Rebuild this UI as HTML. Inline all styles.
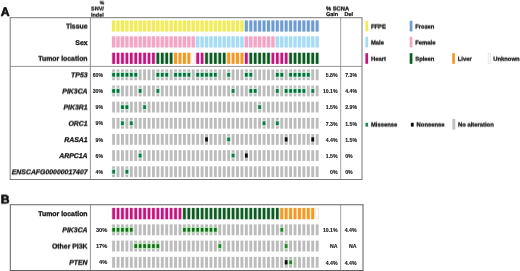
<!DOCTYPE html>
<html><head><meta charset="utf-8"><title>Figure</title>
<style>html,body{margin:0;padding:0;background:#fff;}body{width:520px;height:271px;overflow:hidden;font-family:'Liberation Sans', sans-serif;}
svg{display:block;font-family:'Liberation Sans',sans-serif;text-rendering:geometricPrecision;}text{stroke:#111;stroke-width:0.27;paint-order:stroke;}text.s{stroke-width:0.1;text-rendering:auto;}text.h{stroke-width:0.22;}text.p{stroke-width:0.6;}</style></head>
<body><svg width="520" height="271" viewBox="0 0 520 271">
<defs><filter id="soft" x="0" y="0" width="520" height="271" filterUnits="userSpaceOnUse"><feGaussianBlur stdDeviation="0.27"/></filter><filter id="t0" x="0" y="0" width="520" height="271" filterUnits="userSpaceOnUse"><feGaussianBlur stdDeviation="0.12" result="b"/></filter><filter id="t1" x="0" y="0" width="520" height="271" filterUnits="userSpaceOnUse"><feGaussianBlur stdDeviation="0.12" result="b"/><feOffset in="b" dy="1" result="o"/><feComposite in="b" in2="o" operator="arithmetic" k1="0" k2="0.75" k3="0.25" k4="0"/></filter><filter id="t2" x="0" y="0" width="520" height="271" filterUnits="userSpaceOnUse"><feGaussianBlur stdDeviation="0.12" result="b"/><feOffset in="b" dy="1" result="o"/><feComposite in="b" in2="o" operator="arithmetic" k1="0" k2="0.5" k3="0.5" k4="0"/></filter><filter id="t3" x="0" y="0" width="520" height="271" filterUnits="userSpaceOnUse"><feGaussianBlur stdDeviation="0.12" result="b"/><feOffset in="b" dy="1" result="o"/><feComposite in="b" in2="o" operator="arithmetic" k1="0" k2="0.25" k3="0.75" k4="0"/></filter></defs>
<rect x="0" y="0" width="520" height="271" fill="#ffffff"/>
<g filter="url(#soft)">
<line x1="9.80" y1="17.70" x2="362.40" y2="17.70" stroke="#6a6a6a" stroke-width="0.9"/>
<line x1="9.80" y1="179.50" x2="362.40" y2="179.50" stroke="#6a6a6a" stroke-width="0.9"/>
<line x1="10.20" y1="17.70" x2="10.20" y2="179.50" stroke="#6a6a6a" stroke-width="0.9"/>
<line x1="362.00" y1="17.70" x2="362.00" y2="179.50" stroke="#6a6a6a" stroke-width="0.9"/>
<line x1="90.40" y1="17.70" x2="90.40" y2="179.50" stroke="#7c7c7c" stroke-width="0.8"/>
<line x1="340.70" y1="17.70" x2="340.70" y2="179.50" stroke="#7c7c7c" stroke-width="0.7"/>
<line x1="10.20" y1="66.40" x2="362.00" y2="66.40" stroke="#7c7c7c" stroke-width="0.8"/>
<rect x="111.39" y="20.70" width="4.42" height="10.60" fill="#F1EC5C" opacity="0.25"/>
<rect x="112.00" y="20.40" width="3.20" height="11.20" fill="#F1EC5C" />
<rect x="115.81" y="20.70" width="4.42" height="10.60" fill="#F1EC5C" opacity="0.25"/>
<rect x="116.42" y="20.40" width="3.20" height="11.20" fill="#F1EC5C" />
<rect x="120.24" y="20.70" width="4.42" height="10.60" fill="#F1EC5C" opacity="0.25"/>
<rect x="120.85" y="20.40" width="3.20" height="11.20" fill="#F1EC5C" />
<rect x="124.66" y="20.70" width="4.42" height="10.60" fill="#F1EC5C" opacity="0.25"/>
<rect x="125.28" y="20.40" width="3.20" height="11.20" fill="#F1EC5C" />
<rect x="129.09" y="20.70" width="4.42" height="10.60" fill="#F1EC5C" opacity="0.25"/>
<rect x="129.70" y="20.40" width="3.20" height="11.20" fill="#F1EC5C" />
<rect x="133.51" y="20.70" width="4.42" height="10.60" fill="#F1EC5C" opacity="0.25"/>
<rect x="134.12" y="20.40" width="3.20" height="11.20" fill="#F1EC5C" />
<rect x="137.94" y="20.70" width="4.42" height="10.60" fill="#F1EC5C" opacity="0.25"/>
<rect x="138.55" y="20.40" width="3.20" height="11.20" fill="#F1EC5C" />
<rect x="142.36" y="20.70" width="4.42" height="10.60" fill="#F1EC5C" opacity="0.25"/>
<rect x="142.97" y="20.40" width="3.20" height="11.20" fill="#F1EC5C" />
<rect x="146.79" y="20.70" width="4.42" height="10.60" fill="#F1EC5C" opacity="0.25"/>
<rect x="147.40" y="20.40" width="3.20" height="11.20" fill="#F1EC5C" />
<rect x="151.21" y="20.70" width="4.42" height="10.60" fill="#F1EC5C" opacity="0.25"/>
<rect x="151.82" y="20.40" width="3.20" height="11.20" fill="#F1EC5C" />
<rect x="155.64" y="20.70" width="4.42" height="10.60" fill="#F1EC5C" opacity="0.25"/>
<rect x="156.25" y="20.40" width="3.20" height="11.20" fill="#F1EC5C" />
<rect x="160.06" y="20.70" width="4.42" height="10.60" fill="#F1EC5C" opacity="0.25"/>
<rect x="160.68" y="20.40" width="3.20" height="11.20" fill="#F1EC5C" />
<rect x="164.49" y="20.70" width="4.42" height="10.60" fill="#F1EC5C" opacity="0.25"/>
<rect x="165.10" y="20.40" width="3.20" height="11.20" fill="#F1EC5C" />
<rect x="168.91" y="20.70" width="4.42" height="10.60" fill="#F1EC5C" opacity="0.25"/>
<rect x="169.53" y="20.40" width="3.20" height="11.20" fill="#F1EC5C" />
<rect x="173.34" y="20.70" width="4.42" height="10.60" fill="#F1EC5C" opacity="0.25"/>
<rect x="173.95" y="20.40" width="3.20" height="11.20" fill="#F1EC5C" />
<rect x="177.76" y="20.70" width="4.42" height="10.60" fill="#F1EC5C" opacity="0.25"/>
<rect x="178.38" y="20.40" width="3.20" height="11.20" fill="#F1EC5C" />
<rect x="182.19" y="20.70" width="4.42" height="10.60" fill="#F1EC5C" opacity="0.25"/>
<rect x="182.80" y="20.40" width="3.20" height="11.20" fill="#F1EC5C" />
<rect x="186.61" y="20.70" width="4.42" height="10.60" fill="#F1EC5C" opacity="0.25"/>
<rect x="187.22" y="20.40" width="3.20" height="11.20" fill="#F1EC5C" />
<rect x="191.04" y="20.70" width="4.42" height="10.60" fill="#F1EC5C" opacity="0.25"/>
<rect x="191.65" y="20.40" width="3.20" height="11.20" fill="#F1EC5C" />
<rect x="195.46" y="20.70" width="4.42" height="10.60" fill="#F1EC5C" opacity="0.25"/>
<rect x="196.07" y="20.40" width="3.20" height="11.20" fill="#F1EC5C" />
<rect x="199.89" y="20.70" width="4.42" height="10.60" fill="#F1EC5C" opacity="0.25"/>
<rect x="200.50" y="20.40" width="3.20" height="11.20" fill="#F1EC5C" />
<rect x="204.31" y="20.70" width="4.42" height="10.60" fill="#F1EC5C" opacity="0.25"/>
<rect x="204.93" y="20.40" width="3.20" height="11.20" fill="#F1EC5C" />
<rect x="208.74" y="20.70" width="4.42" height="10.60" fill="#F1EC5C" opacity="0.25"/>
<rect x="209.35" y="20.40" width="3.20" height="11.20" fill="#F1EC5C" />
<rect x="213.16" y="20.70" width="4.42" height="10.60" fill="#F1EC5C" opacity="0.25"/>
<rect x="213.77" y="20.40" width="3.20" height="11.20" fill="#F1EC5C" />
<rect x="217.59" y="20.70" width="4.42" height="10.60" fill="#F1EC5C" opacity="0.25"/>
<rect x="218.20" y="20.40" width="3.20" height="11.20" fill="#F1EC5C" />
<rect x="222.01" y="20.70" width="4.42" height="10.60" fill="#F1EC5C" opacity="0.25"/>
<rect x="222.62" y="20.40" width="3.20" height="11.20" fill="#F1EC5C" />
<rect x="226.44" y="20.70" width="4.42" height="10.60" fill="#F1EC5C" opacity="0.25"/>
<rect x="227.05" y="20.40" width="3.20" height="11.20" fill="#F1EC5C" />
<rect x="230.86" y="20.70" width="4.42" height="10.60" fill="#F1EC5C" opacity="0.25"/>
<rect x="231.47" y="20.40" width="3.20" height="11.20" fill="#F1EC5C" />
<rect x="235.29" y="20.70" width="4.42" height="10.60" fill="#F1EC5C" opacity="0.25"/>
<rect x="235.90" y="20.40" width="3.20" height="11.20" fill="#F1EC5C" />
<rect x="239.71" y="20.70" width="4.42" height="10.60" fill="#F1EC5C" opacity="0.25"/>
<rect x="240.32" y="20.40" width="3.20" height="11.20" fill="#F1EC5C" />
<rect x="244.14" y="20.70" width="4.42" height="10.60" fill="#6E9BD0" opacity="0.15"/>
<rect x="244.88" y="20.40" width="2.95" height="11.20" fill="#6E9BD0" />
<rect x="248.56" y="20.70" width="4.42" height="10.60" fill="#6E9BD0" opacity="0.15"/>
<rect x="249.30" y="20.40" width="2.95" height="11.20" fill="#6E9BD0" />
<rect x="252.99" y="20.70" width="4.42" height="10.60" fill="#6E9BD0" opacity="0.15"/>
<rect x="253.72" y="20.40" width="2.95" height="11.20" fill="#6E9BD0" />
<rect x="257.41" y="20.70" width="4.42" height="10.60" fill="#6E9BD0" opacity="0.15"/>
<rect x="258.15" y="20.40" width="2.95" height="11.20" fill="#6E9BD0" />
<rect x="261.84" y="20.70" width="4.42" height="10.60" fill="#6E9BD0" opacity="0.15"/>
<rect x="262.57" y="20.40" width="2.95" height="11.20" fill="#6E9BD0" />
<rect x="266.26" y="20.70" width="4.42" height="10.60" fill="#6E9BD0" opacity="0.15"/>
<rect x="267.00" y="20.40" width="2.95" height="11.20" fill="#6E9BD0" />
<rect x="270.69" y="20.70" width="4.42" height="10.60" fill="#6E9BD0" opacity="0.15"/>
<rect x="271.42" y="20.40" width="2.95" height="11.20" fill="#6E9BD0" />
<rect x="275.11" y="20.70" width="4.42" height="10.60" fill="#6E9BD0" opacity="0.15"/>
<rect x="275.85" y="20.40" width="2.95" height="11.20" fill="#6E9BD0" />
<rect x="279.54" y="20.70" width="4.42" height="10.60" fill="#6E9BD0" opacity="0.15"/>
<rect x="280.27" y="20.40" width="2.95" height="11.20" fill="#6E9BD0" />
<rect x="283.96" y="20.70" width="4.42" height="10.60" fill="#6E9BD0" opacity="0.15"/>
<rect x="284.70" y="20.40" width="2.95" height="11.20" fill="#6E9BD0" />
<rect x="288.39" y="20.70" width="4.42" height="10.60" fill="#6E9BD0" opacity="0.15"/>
<rect x="289.12" y="20.40" width="2.95" height="11.20" fill="#6E9BD0" />
<rect x="292.81" y="20.70" width="4.42" height="10.60" fill="#6E9BD0" opacity="0.15"/>
<rect x="293.55" y="20.40" width="2.95" height="11.20" fill="#6E9BD0" />
<rect x="297.24" y="20.70" width="4.42" height="10.60" fill="#6E9BD0" opacity="0.15"/>
<rect x="297.98" y="20.40" width="2.95" height="11.20" fill="#6E9BD0" />
<rect x="301.66" y="20.70" width="4.42" height="10.60" fill="#6E9BD0" opacity="0.15"/>
<rect x="302.40" y="20.40" width="2.95" height="11.20" fill="#6E9BD0" />
<rect x="306.09" y="20.70" width="4.42" height="10.60" fill="#6E9BD0" opacity="0.15"/>
<rect x="306.82" y="20.40" width="2.95" height="11.20" fill="#6E9BD0" />
<rect x="310.51" y="20.70" width="4.42" height="10.60" fill="#6E9BD0" opacity="0.15"/>
<rect x="311.25" y="20.40" width="2.95" height="11.20" fill="#6E9BD0" />
<rect x="314.94" y="20.70" width="4.42" height="10.60" fill="#6E9BD0" opacity="0.15"/>
<rect x="315.67" y="20.40" width="2.95" height="11.20" fill="#6E9BD0" />
<rect x="111.39" y="36.60" width="4.42" height="10.60" fill="#F3A5C6" opacity="0.25"/>
<rect x="112.00" y="36.30" width="3.20" height="11.20" fill="#F3A5C6" />
<rect x="115.81" y="36.60" width="4.42" height="10.60" fill="#F3A5C6" opacity="0.25"/>
<rect x="116.42" y="36.30" width="3.20" height="11.20" fill="#F3A5C6" />
<rect x="120.24" y="36.60" width="4.42" height="10.60" fill="#F3A5C6" opacity="0.25"/>
<rect x="120.85" y="36.30" width="3.20" height="11.20" fill="#F3A5C6" />
<rect x="124.66" y="36.60" width="4.42" height="10.60" fill="#F3A5C6" opacity="0.25"/>
<rect x="125.28" y="36.30" width="3.20" height="11.20" fill="#F3A5C6" />
<rect x="129.09" y="36.60" width="4.42" height="10.60" fill="#F3A5C6" opacity="0.25"/>
<rect x="129.70" y="36.30" width="3.20" height="11.20" fill="#F3A5C6" />
<rect x="133.51" y="36.60" width="4.42" height="10.60" fill="#F3A5C6" opacity="0.25"/>
<rect x="134.12" y="36.30" width="3.20" height="11.20" fill="#F3A5C6" />
<rect x="137.94" y="36.60" width="4.42" height="10.60" fill="#F3A5C6" opacity="0.25"/>
<rect x="138.55" y="36.30" width="3.20" height="11.20" fill="#F3A5C6" />
<rect x="142.36" y="36.60" width="4.42" height="10.60" fill="#F3A5C6" opacity="0.25"/>
<rect x="142.97" y="36.30" width="3.20" height="11.20" fill="#F3A5C6" />
<rect x="146.79" y="36.60" width="4.42" height="10.60" fill="#F3A5C6" opacity="0.25"/>
<rect x="147.40" y="36.30" width="3.20" height="11.20" fill="#F3A5C6" />
<rect x="151.21" y="36.60" width="4.42" height="10.60" fill="#F3A5C6" opacity="0.25"/>
<rect x="151.82" y="36.30" width="3.20" height="11.20" fill="#F3A5C6" />
<rect x="155.64" y="36.60" width="4.42" height="10.60" fill="#F3A5C6" opacity="0.25"/>
<rect x="156.25" y="36.30" width="3.20" height="11.20" fill="#F3A5C6" />
<rect x="160.06" y="36.60" width="4.42" height="10.60" fill="#F3A5C6" opacity="0.25"/>
<rect x="160.68" y="36.30" width="3.20" height="11.20" fill="#F3A5C6" />
<rect x="164.49" y="36.60" width="4.42" height="10.60" fill="#F3A5C6" opacity="0.25"/>
<rect x="165.10" y="36.30" width="3.20" height="11.20" fill="#F3A5C6" />
<rect x="168.91" y="36.60" width="4.42" height="10.60" fill="#F3A5C6" opacity="0.25"/>
<rect x="169.53" y="36.30" width="3.20" height="11.20" fill="#F3A5C6" />
<rect x="173.34" y="36.60" width="4.42" height="10.60" fill="#F3A5C6" opacity="0.25"/>
<rect x="173.95" y="36.30" width="3.20" height="11.20" fill="#F3A5C6" />
<rect x="177.76" y="36.60" width="4.42" height="10.60" fill="#F3A5C6" opacity="0.25"/>
<rect x="178.38" y="36.30" width="3.20" height="11.20" fill="#F3A5C6" />
<rect x="182.19" y="36.60" width="4.42" height="10.60" fill="#F3A5C6" opacity="0.25"/>
<rect x="182.80" y="36.30" width="3.20" height="11.20" fill="#F3A5C6" />
<rect x="186.61" y="36.60" width="4.42" height="10.60" fill="#F3A5C6" opacity="0.25"/>
<rect x="187.22" y="36.30" width="3.20" height="11.20" fill="#F3A5C6" />
<rect x="191.04" y="36.60" width="4.42" height="10.60" fill="#F3A5C6" opacity="0.25"/>
<rect x="191.65" y="36.30" width="3.20" height="11.20" fill="#F3A5C6" />
<rect x="195.46" y="36.60" width="4.42" height="10.60" fill="#A6DBF4" opacity="0.25"/>
<rect x="196.07" y="36.30" width="3.20" height="11.20" fill="#A6DBF4" />
<rect x="199.89" y="36.60" width="4.42" height="10.60" fill="#A6DBF4" opacity="0.25"/>
<rect x="200.50" y="36.30" width="3.20" height="11.20" fill="#A6DBF4" />
<rect x="204.31" y="36.60" width="4.42" height="10.60" fill="#A6DBF4" opacity="0.25"/>
<rect x="204.93" y="36.30" width="3.20" height="11.20" fill="#A6DBF4" />
<rect x="208.74" y="36.60" width="4.42" height="10.60" fill="#A6DBF4" opacity="0.25"/>
<rect x="209.35" y="36.30" width="3.20" height="11.20" fill="#A6DBF4" />
<rect x="213.16" y="36.60" width="4.42" height="10.60" fill="#A6DBF4" opacity="0.25"/>
<rect x="213.77" y="36.30" width="3.20" height="11.20" fill="#A6DBF4" />
<rect x="217.59" y="36.60" width="4.42" height="10.60" fill="#A6DBF4" opacity="0.25"/>
<rect x="218.20" y="36.30" width="3.20" height="11.20" fill="#A6DBF4" />
<rect x="222.01" y="36.60" width="4.42" height="10.60" fill="#A6DBF4" opacity="0.25"/>
<rect x="222.62" y="36.30" width="3.20" height="11.20" fill="#A6DBF4" />
<rect x="226.44" y="36.60" width="4.42" height="10.60" fill="#A6DBF4" opacity="0.25"/>
<rect x="227.05" y="36.30" width="3.20" height="11.20" fill="#A6DBF4" />
<rect x="230.86" y="36.60" width="4.42" height="10.60" fill="#A6DBF4" opacity="0.25"/>
<rect x="231.47" y="36.30" width="3.20" height="11.20" fill="#A6DBF4" />
<rect x="235.29" y="36.60" width="4.42" height="10.60" fill="#A6DBF4" opacity="0.25"/>
<rect x="235.90" y="36.30" width="3.20" height="11.20" fill="#A6DBF4" />
<rect x="239.71" y="36.60" width="4.42" height="10.60" fill="#A6DBF4" opacity="0.25"/>
<rect x="240.32" y="36.30" width="3.20" height="11.20" fill="#A6DBF4" />
<rect x="244.14" y="36.60" width="4.42" height="10.60" fill="#F3A5C6" opacity="0.25"/>
<rect x="244.75" y="36.30" width="3.20" height="11.20" fill="#F3A5C6" />
<rect x="248.56" y="36.60" width="4.42" height="10.60" fill="#F3A5C6" opacity="0.25"/>
<rect x="249.17" y="36.30" width="3.20" height="11.20" fill="#F3A5C6" />
<rect x="252.99" y="36.60" width="4.42" height="10.60" fill="#F3A5C6" opacity="0.25"/>
<rect x="253.60" y="36.30" width="3.20" height="11.20" fill="#F3A5C6" />
<rect x="257.41" y="36.60" width="4.42" height="10.60" fill="#F3A5C6" opacity="0.25"/>
<rect x="258.02" y="36.30" width="3.20" height="11.20" fill="#F3A5C6" />
<rect x="261.84" y="36.60" width="4.42" height="10.60" fill="#F3A5C6" opacity="0.25"/>
<rect x="262.45" y="36.30" width="3.20" height="11.20" fill="#F3A5C6" />
<rect x="266.26" y="36.60" width="4.42" height="10.60" fill="#F3A5C6" opacity="0.25"/>
<rect x="266.88" y="36.30" width="3.20" height="11.20" fill="#F3A5C6" />
<rect x="270.69" y="36.60" width="4.42" height="10.60" fill="#F3A5C6" opacity="0.25"/>
<rect x="271.30" y="36.30" width="3.20" height="11.20" fill="#F3A5C6" />
<rect x="275.11" y="36.60" width="4.42" height="10.60" fill="#A6DBF4" opacity="0.25"/>
<rect x="275.73" y="36.30" width="3.20" height="11.20" fill="#A6DBF4" />
<rect x="279.54" y="36.60" width="4.42" height="10.60" fill="#A6DBF4" opacity="0.25"/>
<rect x="280.15" y="36.30" width="3.20" height="11.20" fill="#A6DBF4" />
<rect x="283.96" y="36.60" width="4.42" height="10.60" fill="#A6DBF4" opacity="0.25"/>
<rect x="284.57" y="36.30" width="3.20" height="11.20" fill="#A6DBF4" />
<rect x="288.39" y="36.60" width="4.42" height="10.60" fill="#A6DBF4" opacity="0.25"/>
<rect x="289.00" y="36.30" width="3.20" height="11.20" fill="#A6DBF4" />
<rect x="292.81" y="36.60" width="4.42" height="10.60" fill="#A6DBF4" opacity="0.25"/>
<rect x="293.42" y="36.30" width="3.20" height="11.20" fill="#A6DBF4" />
<rect x="297.24" y="36.60" width="4.42" height="10.60" fill="#A6DBF4" opacity="0.25"/>
<rect x="297.85" y="36.30" width="3.20" height="11.20" fill="#A6DBF4" />
<rect x="301.66" y="36.60" width="4.42" height="10.60" fill="#A6DBF4" opacity="0.25"/>
<rect x="302.27" y="36.30" width="3.20" height="11.20" fill="#A6DBF4" />
<rect x="306.09" y="36.60" width="4.42" height="10.60" fill="#A6DBF4" opacity="0.25"/>
<rect x="306.70" y="36.30" width="3.20" height="11.20" fill="#A6DBF4" />
<rect x="310.51" y="36.60" width="4.42" height="10.60" fill="#A6DBF4" opacity="0.25"/>
<rect x="311.12" y="36.30" width="3.20" height="11.20" fill="#A6DBF4" />
<rect x="314.94" y="36.60" width="4.42" height="10.60" fill="#A6DBF4" opacity="0.25"/>
<rect x="315.55" y="36.30" width="3.20" height="11.20" fill="#A6DBF4" />
<rect x="111.39" y="53.00" width="4.42" height="10.60" fill="#C4127F" opacity="0.15"/>
<rect x="112.28" y="52.70" width="2.65" height="11.20" fill="#C4127F" />
<rect x="115.81" y="53.00" width="4.42" height="10.60" fill="#C4127F" opacity="0.15"/>
<rect x="116.70" y="52.70" width="2.65" height="11.20" fill="#C4127F" />
<rect x="120.24" y="53.00" width="4.42" height="10.60" fill="#C4127F" opacity="0.15"/>
<rect x="121.12" y="52.70" width="2.65" height="11.20" fill="#C4127F" />
<rect x="124.66" y="53.00" width="4.42" height="10.60" fill="#C4127F" opacity="0.15"/>
<rect x="125.55" y="52.70" width="2.65" height="11.20" fill="#C4127F" />
<rect x="129.09" y="53.00" width="4.42" height="10.60" fill="#C4127F" opacity="0.15"/>
<rect x="129.97" y="52.70" width="2.65" height="11.20" fill="#C4127F" />
<rect x="133.51" y="53.00" width="4.42" height="10.60" fill="#C4127F" opacity="0.15"/>
<rect x="134.40" y="52.70" width="2.65" height="11.20" fill="#C4127F" />
<rect x="137.94" y="53.00" width="4.42" height="10.60" fill="#C4127F" opacity="0.15"/>
<rect x="138.83" y="52.70" width="2.65" height="11.20" fill="#C4127F" />
<rect x="142.36" y="53.00" width="4.42" height="10.60" fill="#C4127F" opacity="0.15"/>
<rect x="143.25" y="52.70" width="2.65" height="11.20" fill="#C4127F" />
<rect x="146.79" y="53.00" width="4.42" height="10.60" fill="#C4127F" opacity="0.15"/>
<rect x="147.68" y="52.70" width="2.65" height="11.20" fill="#C4127F" />
<rect x="151.21" y="53.00" width="4.42" height="10.60" fill="#C4127F" opacity="0.15"/>
<rect x="152.10" y="52.70" width="2.65" height="11.20" fill="#C4127F" />
<rect x="155.64" y="53.00" width="4.42" height="10.60" fill="#0B5A22" opacity="0.15"/>
<rect x="156.53" y="52.70" width="2.65" height="11.20" fill="#0B5A22" />
<rect x="160.06" y="53.00" width="4.42" height="10.60" fill="#0B5A22" opacity="0.15"/>
<rect x="160.95" y="52.70" width="2.65" height="11.20" fill="#0B5A22" />
<rect x="164.49" y="53.00" width="4.42" height="10.60" fill="#0B5A22" opacity="0.15"/>
<rect x="165.38" y="52.70" width="2.65" height="11.20" fill="#0B5A22" />
<rect x="168.91" y="53.00" width="4.42" height="10.60" fill="#0B5A22" opacity="0.15"/>
<rect x="169.80" y="52.70" width="2.65" height="11.20" fill="#0B5A22" />
<rect x="173.34" y="53.00" width="4.42" height="10.60" fill="#F39A25" opacity="0.15"/>
<rect x="174.07" y="52.70" width="2.95" height="11.20" fill="#F39A25" />
<rect x="177.76" y="53.00" width="4.42" height="10.60" fill="#F39A25" opacity="0.15"/>
<rect x="178.50" y="52.70" width="2.95" height="11.20" fill="#F39A25" />
<rect x="182.19" y="53.00" width="4.42" height="10.60" fill="#F39A25" opacity="0.15"/>
<rect x="182.93" y="52.70" width="2.95" height="11.20" fill="#F39A25" />
<rect x="186.61" y="53.00" width="4.42" height="10.60" fill="#F39A25" opacity="0.15"/>
<rect x="187.35" y="52.70" width="2.95" height="11.20" fill="#F39A25" />
<rect x="191.90" y="52.95" width="2.70" height="10.70" fill="#fff" stroke="#d9d9d9" stroke-width="0.5"/>
<rect x="195.46" y="53.00" width="4.42" height="10.60" fill="#C4127F" opacity="0.15"/>
<rect x="196.35" y="52.70" width="2.65" height="11.20" fill="#C4127F" />
<rect x="199.89" y="53.00" width="4.42" height="10.60" fill="#C4127F" opacity="0.15"/>
<rect x="200.78" y="52.70" width="2.65" height="11.20" fill="#C4127F" />
<rect x="204.31" y="53.00" width="4.42" height="10.60" fill="#0B5A22" opacity="0.15"/>
<rect x="205.20" y="52.70" width="2.65" height="11.20" fill="#0B5A22" />
<rect x="208.74" y="53.00" width="4.42" height="10.60" fill="#0B5A22" opacity="0.15"/>
<rect x="209.62" y="52.70" width="2.65" height="11.20" fill="#0B5A22" />
<rect x="213.16" y="53.00" width="4.42" height="10.60" fill="#0B5A22" opacity="0.15"/>
<rect x="214.05" y="52.70" width="2.65" height="11.20" fill="#0B5A22" />
<rect x="217.59" y="53.00" width="4.42" height="10.60" fill="#0B5A22" opacity="0.15"/>
<rect x="218.47" y="52.70" width="2.65" height="11.20" fill="#0B5A22" />
<rect x="222.01" y="53.00" width="4.42" height="10.60" fill="#0B5A22" opacity="0.15"/>
<rect x="222.90" y="52.70" width="2.65" height="11.20" fill="#0B5A22" />
<rect x="226.44" y="53.00" width="4.42" height="10.60" fill="#F39A25" opacity="0.15"/>
<rect x="227.18" y="52.70" width="2.95" height="11.20" fill="#F39A25" />
<rect x="230.86" y="53.00" width="4.42" height="10.60" fill="#F39A25" opacity="0.15"/>
<rect x="231.60" y="52.70" width="2.95" height="11.20" fill="#F39A25" />
<rect x="235.29" y="53.00" width="4.42" height="10.60" fill="#F39A25" opacity="0.15"/>
<rect x="236.02" y="52.70" width="2.95" height="11.20" fill="#F39A25" />
<rect x="239.71" y="53.00" width="4.42" height="10.60" fill="#F39A25" opacity="0.15"/>
<rect x="240.45" y="52.70" width="2.95" height="11.20" fill="#F39A25" />
<rect x="244.14" y="53.00" width="4.42" height="10.60" fill="#C4127F" opacity="0.15"/>
<rect x="245.03" y="52.70" width="2.65" height="11.20" fill="#C4127F" />
<rect x="248.56" y="53.00" width="4.42" height="10.60" fill="#0B5A22" opacity="0.15"/>
<rect x="249.45" y="52.70" width="2.65" height="11.20" fill="#0B5A22" />
<rect x="252.99" y="53.00" width="4.42" height="10.60" fill="#0B5A22" opacity="0.15"/>
<rect x="253.88" y="52.70" width="2.65" height="11.20" fill="#0B5A22" />
<rect x="257.41" y="53.00" width="4.42" height="10.60" fill="#0B5A22" opacity="0.15"/>
<rect x="258.30" y="52.70" width="2.65" height="11.20" fill="#0B5A22" />
<rect x="261.84" y="53.00" width="4.42" height="10.60" fill="#0B5A22" opacity="0.15"/>
<rect x="262.72" y="52.70" width="2.65" height="11.20" fill="#0B5A22" />
<rect x="266.26" y="53.00" width="4.42" height="10.60" fill="#0B5A22" opacity="0.15"/>
<rect x="267.15" y="52.70" width="2.65" height="11.20" fill="#0B5A22" />
<rect x="270.69" y="53.00" width="4.42" height="10.60" fill="#C4127F" opacity="0.15"/>
<rect x="271.57" y="52.70" width="2.65" height="11.20" fill="#C4127F" />
<rect x="275.11" y="53.00" width="4.42" height="10.60" fill="#C4127F" opacity="0.15"/>
<rect x="276.00" y="52.70" width="2.65" height="11.20" fill="#C4127F" />
<rect x="279.54" y="53.00" width="4.42" height="10.60" fill="#C4127F" opacity="0.15"/>
<rect x="280.42" y="52.70" width="2.65" height="11.20" fill="#C4127F" />
<rect x="283.96" y="53.00" width="4.42" height="10.60" fill="#C4127F" opacity="0.15"/>
<rect x="284.85" y="52.70" width="2.65" height="11.20" fill="#C4127F" />
<rect x="288.39" y="53.00" width="4.42" height="10.60" fill="#0B5A22" opacity="0.15"/>
<rect x="289.27" y="52.70" width="2.65" height="11.20" fill="#0B5A22" />
<rect x="292.81" y="53.00" width="4.42" height="10.60" fill="#0B5A22" opacity="0.15"/>
<rect x="293.70" y="52.70" width="2.65" height="11.20" fill="#0B5A22" />
<rect x="297.24" y="53.00" width="4.42" height="10.60" fill="#0B5A22" opacity="0.15"/>
<rect x="298.12" y="52.70" width="2.65" height="11.20" fill="#0B5A22" />
<rect x="301.66" y="53.00" width="4.42" height="10.60" fill="#0B5A22" opacity="0.15"/>
<rect x="302.55" y="52.70" width="2.65" height="11.20" fill="#0B5A22" />
<rect x="306.09" y="53.00" width="4.42" height="10.60" fill="#0B5A22" opacity="0.15"/>
<rect x="306.97" y="52.70" width="2.65" height="11.20" fill="#0B5A22" />
<rect x="310.51" y="53.00" width="4.42" height="10.60" fill="#0B5A22" opacity="0.15"/>
<rect x="311.40" y="52.70" width="2.65" height="11.20" fill="#0B5A22" />
<rect x="314.94" y="53.00" width="4.42" height="10.60" fill="#0B5A22" opacity="0.15"/>
<rect x="315.82" y="52.70" width="2.65" height="11.20" fill="#0B5A22" />
<rect x="112.15" y="69.40" width="2.90" height="10.80" fill="#BCBCBC" />
<rect x="116.58" y="69.40" width="2.90" height="10.80" fill="#BCBCBC" />
<rect x="121.00" y="69.40" width="2.90" height="10.80" fill="#BCBCBC" />
<rect x="125.43" y="69.40" width="2.90" height="10.80" fill="#BCBCBC" />
<rect x="129.85" y="69.40" width="2.90" height="10.80" fill="#BCBCBC" />
<rect x="134.28" y="69.40" width="2.90" height="10.80" fill="#BCBCBC" />
<rect x="138.70" y="69.40" width="2.90" height="10.80" fill="#BCBCBC" />
<rect x="143.12" y="69.40" width="2.90" height="10.80" fill="#BCBCBC" />
<rect x="147.55" y="69.40" width="2.90" height="10.80" fill="#BCBCBC" />
<rect x="151.97" y="69.40" width="2.90" height="10.80" fill="#BCBCBC" />
<rect x="156.40" y="69.40" width="2.90" height="10.80" fill="#BCBCBC" />
<rect x="160.83" y="69.40" width="2.90" height="10.80" fill="#BCBCBC" />
<rect x="165.25" y="69.40" width="2.90" height="10.80" fill="#BCBCBC" />
<rect x="169.68" y="69.40" width="2.90" height="10.80" fill="#BCBCBC" />
<rect x="174.10" y="69.40" width="2.90" height="10.80" fill="#BCBCBC" />
<rect x="178.53" y="69.40" width="2.90" height="10.80" fill="#BCBCBC" />
<rect x="182.95" y="69.40" width="2.90" height="10.80" fill="#BCBCBC" />
<rect x="187.38" y="69.40" width="2.90" height="10.80" fill="#BCBCBC" />
<rect x="191.80" y="69.40" width="2.90" height="10.80" fill="#BCBCBC" />
<rect x="196.22" y="69.40" width="2.90" height="10.80" fill="#BCBCBC" />
<rect x="200.65" y="69.40" width="2.90" height="10.80" fill="#BCBCBC" />
<rect x="205.08" y="69.40" width="2.90" height="10.80" fill="#BCBCBC" />
<rect x="209.50" y="69.40" width="2.90" height="10.80" fill="#BCBCBC" />
<rect x="213.92" y="69.40" width="2.90" height="10.80" fill="#BCBCBC" />
<rect x="218.35" y="69.40" width="2.90" height="10.80" fill="#BCBCBC" />
<rect x="222.78" y="69.40" width="2.90" height="10.80" fill="#BCBCBC" />
<rect x="227.20" y="69.40" width="2.90" height="10.80" fill="#BCBCBC" />
<rect x="231.62" y="69.40" width="2.90" height="10.80" fill="#BCBCBC" />
<rect x="236.05" y="69.40" width="2.90" height="10.80" fill="#BCBCBC" />
<rect x="240.47" y="69.40" width="2.90" height="10.80" fill="#BCBCBC" />
<rect x="244.90" y="69.40" width="2.90" height="10.80" fill="#BCBCBC" />
<rect x="249.32" y="69.40" width="2.90" height="10.80" fill="#BCBCBC" />
<rect x="253.75" y="69.40" width="2.90" height="10.80" fill="#BCBCBC" />
<rect x="258.17" y="69.40" width="2.90" height="10.80" fill="#BCBCBC" />
<rect x="262.60" y="69.40" width="2.90" height="10.80" fill="#BCBCBC" />
<rect x="267.02" y="69.40" width="2.90" height="10.80" fill="#BCBCBC" />
<rect x="271.45" y="69.40" width="2.90" height="10.80" fill="#BCBCBC" />
<rect x="275.88" y="69.40" width="2.90" height="10.80" fill="#BCBCBC" />
<rect x="280.30" y="69.40" width="2.90" height="10.80" fill="#BCBCBC" />
<rect x="284.72" y="69.40" width="2.90" height="10.80" fill="#BCBCBC" />
<rect x="289.15" y="69.40" width="2.90" height="10.80" fill="#BCBCBC" />
<rect x="293.57" y="69.40" width="2.90" height="10.80" fill="#BCBCBC" />
<rect x="298.00" y="69.40" width="2.90" height="10.80" fill="#BCBCBC" />
<rect x="302.42" y="69.40" width="2.90" height="10.80" fill="#BCBCBC" />
<rect x="306.85" y="69.40" width="2.90" height="10.80" fill="#BCBCBC" />
<rect x="311.27" y="69.40" width="2.90" height="10.80" fill="#BCBCBC" />
<rect x="315.70" y="69.40" width="2.90" height="10.80" fill="#BCBCBC" />
<rect x="112.05" y="71.50" width="3.10" height="6.60" fill="#e8fff2" opacity="0.4"/>
<rect x="111.40" y="72.50" width="4.40" height="4.60" fill="#a2f0cb" opacity="0.75"/>
<rect x="112.23" y="72.95" width="2.74" height="3.70" fill="#0C6B3C" />
<rect x="116.48" y="71.50" width="3.10" height="6.60" fill="#e8fff2" opacity="0.4"/>
<rect x="115.83" y="72.50" width="4.40" height="4.60" fill="#a2f0cb" opacity="0.75"/>
<rect x="116.66" y="72.95" width="2.74" height="3.70" fill="#0C6B3C" />
<rect x="120.90" y="71.50" width="3.10" height="6.60" fill="#e8fff2" opacity="0.4"/>
<rect x="120.25" y="72.50" width="4.40" height="4.60" fill="#a2f0cb" opacity="0.75"/>
<rect x="121.08" y="72.95" width="2.74" height="3.70" fill="#0C6B3C" />
<rect x="125.33" y="71.50" width="3.10" height="6.60" fill="#e8fff2" opacity="0.4"/>
<rect x="124.68" y="72.50" width="4.40" height="4.60" fill="#a2f0cb" opacity="0.75"/>
<rect x="125.51" y="72.95" width="2.74" height="3.70" fill="#0C6B3C" />
<rect x="129.75" y="71.50" width="3.10" height="6.60" fill="#e8fff2" opacity="0.4"/>
<rect x="129.10" y="72.50" width="4.40" height="4.60" fill="#a2f0cb" opacity="0.75"/>
<rect x="129.93" y="72.95" width="2.74" height="3.70" fill="#0C6B3C" />
<rect x="134.18" y="71.50" width="3.10" height="6.60" fill="#e8fff2" opacity="0.4"/>
<rect x="133.53" y="72.50" width="4.40" height="4.60" fill="#a2f0cb" opacity="0.75"/>
<rect x="134.36" y="72.95" width="2.74" height="3.70" fill="#0C6B3C" />
<rect x="156.30" y="71.50" width="3.10" height="6.60" fill="#e8fff2" opacity="0.4"/>
<rect x="155.65" y="72.50" width="4.40" height="4.60" fill="#a2f0cb" opacity="0.75"/>
<rect x="156.48" y="72.95" width="2.74" height="3.70" fill="#0C6B3C" />
<rect x="160.73" y="71.50" width="3.10" height="6.60" fill="#e8fff2" opacity="0.4"/>
<rect x="160.08" y="72.50" width="4.40" height="4.60" fill="#a2f0cb" opacity="0.75"/>
<rect x="160.91" y="72.95" width="2.74" height="3.70" fill="#0C6B3C" />
<rect x="165.15" y="71.50" width="3.10" height="6.60" fill="#e8fff2" opacity="0.4"/>
<rect x="164.50" y="72.50" width="4.40" height="4.60" fill="#a2f0cb" opacity="0.75"/>
<rect x="165.33" y="72.95" width="2.74" height="3.70" fill="#0C6B3C" />
<rect x="174.00" y="71.50" width="3.10" height="6.60" fill="#e8fff2" opacity="0.4"/>
<rect x="173.35" y="72.50" width="4.40" height="4.60" fill="#a2f0cb" opacity="0.75"/>
<rect x="174.18" y="72.95" width="2.74" height="3.70" fill="#0C6B3C" />
<rect x="178.43" y="71.50" width="3.10" height="6.60" fill="#e8fff2" opacity="0.4"/>
<rect x="177.78" y="72.50" width="4.40" height="4.60" fill="#a2f0cb" opacity="0.75"/>
<rect x="178.61" y="72.95" width="2.74" height="3.70" fill="#0C6B3C" />
<rect x="182.85" y="71.50" width="3.10" height="6.60" fill="#e8fff2" opacity="0.4"/>
<rect x="182.20" y="72.50" width="4.40" height="4.60" fill="#a2f0cb" opacity="0.75"/>
<rect x="183.03" y="72.95" width="2.74" height="3.70" fill="#0C6B3C" />
<rect x="187.28" y="71.50" width="3.10" height="6.60" fill="#e8fff2" opacity="0.4"/>
<rect x="186.62" y="72.50" width="4.40" height="4.60" fill="#a2f0cb" opacity="0.75"/>
<rect x="187.46" y="72.95" width="2.74" height="3.70" fill="#0C6B3C" />
<rect x="196.12" y="71.50" width="3.10" height="6.60" fill="#e8fff2" opacity="0.4"/>
<rect x="195.47" y="72.50" width="4.40" height="4.60" fill="#a2f0cb" opacity="0.75"/>
<rect x="196.31" y="72.95" width="2.74" height="3.70" fill="#0C6B3C" />
<rect x="200.55" y="71.50" width="3.10" height="6.60" fill="#e8fff2" opacity="0.4"/>
<rect x="199.90" y="72.50" width="4.40" height="4.60" fill="#a2f0cb" opacity="0.75"/>
<rect x="200.73" y="72.95" width="2.74" height="3.70" fill="#0C6B3C" />
<rect x="204.98" y="71.50" width="3.10" height="6.60" fill="#e8fff2" opacity="0.4"/>
<rect x="204.33" y="72.50" width="4.40" height="4.60" fill="#a2f0cb" opacity="0.75"/>
<rect x="205.16" y="72.95" width="2.74" height="3.70" fill="#0C6B3C" />
<rect x="209.40" y="71.50" width="3.10" height="6.60" fill="#e8fff2" opacity="0.4"/>
<rect x="208.75" y="72.50" width="4.40" height="4.60" fill="#a2f0cb" opacity="0.75"/>
<rect x="209.58" y="72.95" width="2.74" height="3.70" fill="#0C6B3C" />
<rect x="213.82" y="71.50" width="3.10" height="6.60" fill="#e8fff2" opacity="0.4"/>
<rect x="213.17" y="72.50" width="4.40" height="4.60" fill="#a2f0cb" opacity="0.75"/>
<rect x="214.00" y="72.95" width="2.74" height="3.70" fill="#0C6B3C" />
<rect x="227.10" y="71.50" width="3.10" height="6.60" fill="#e8fff2" opacity="0.4"/>
<rect x="226.45" y="72.50" width="4.40" height="4.60" fill="#a2f0cb" opacity="0.75"/>
<rect x="227.28" y="72.95" width="2.74" height="3.70" fill="#1a7249" />
<rect x="244.80" y="71.50" width="3.10" height="6.60" fill="#e8fff2" opacity="0.4"/>
<rect x="244.15" y="72.50" width="4.40" height="4.60" fill="#a2f0cb" opacity="0.75"/>
<rect x="244.98" y="72.95" width="2.74" height="3.70" fill="#0C6B3C" />
<rect x="249.22" y="71.50" width="3.10" height="6.60" fill="#e8fff2" opacity="0.4"/>
<rect x="248.57" y="72.50" width="4.40" height="4.60" fill="#a2f0cb" opacity="0.75"/>
<rect x="249.41" y="72.95" width="2.74" height="3.70" fill="#0C6B3C" />
<rect x="275.77" y="71.50" width="3.10" height="6.60" fill="#e8fff2" opacity="0.4"/>
<rect x="275.12" y="72.50" width="4.40" height="4.60" fill="#a2f0cb" opacity="0.75"/>
<rect x="275.95" y="72.95" width="2.74" height="3.70" fill="#0C6B3C" />
<rect x="280.20" y="71.50" width="3.10" height="6.60" fill="#e8fff2" opacity="0.4"/>
<rect x="279.55" y="72.50" width="4.40" height="4.60" fill="#a2f0cb" opacity="0.75"/>
<rect x="280.38" y="72.95" width="2.74" height="3.70" fill="#0C6B3C" />
<rect x="289.05" y="71.50" width="3.10" height="6.60" fill="#e8fff2" opacity="0.4"/>
<rect x="288.40" y="72.50" width="4.40" height="4.60" fill="#a2f0cb" opacity="0.75"/>
<rect x="289.23" y="72.95" width="2.74" height="3.70" fill="#0C6B3C" />
<rect x="293.47" y="71.50" width="3.10" height="6.60" fill="#e8fff2" opacity="0.4"/>
<rect x="292.82" y="72.50" width="4.40" height="4.60" fill="#a2f0cb" opacity="0.75"/>
<rect x="293.65" y="72.95" width="2.74" height="3.70" fill="#0C6B3C" />
<rect x="297.90" y="71.50" width="3.10" height="6.60" fill="#e8fff2" opacity="0.4"/>
<rect x="297.25" y="72.50" width="4.40" height="4.60" fill="#a2f0cb" opacity="0.75"/>
<rect x="298.08" y="72.95" width="2.74" height="3.70" fill="#0C6B3C" />
<rect x="302.32" y="71.50" width="3.10" height="6.60" fill="#e8fff2" opacity="0.4"/>
<rect x="301.67" y="72.50" width="4.40" height="4.60" fill="#a2f0cb" opacity="0.75"/>
<rect x="302.50" y="72.95" width="2.74" height="3.70" fill="#0C6B3C" />
<rect x="306.75" y="71.50" width="3.10" height="6.60" fill="#e8fff2" opacity="0.4"/>
<rect x="306.10" y="72.50" width="4.40" height="4.60" fill="#a2f0cb" opacity="0.75"/>
<rect x="306.93" y="72.95" width="2.74" height="3.70" fill="#0C6B3C" />
<rect x="112.15" y="85.55" width="2.90" height="10.80" fill="#BCBCBC" />
<rect x="116.58" y="85.55" width="2.90" height="10.80" fill="#BCBCBC" />
<rect x="121.00" y="85.55" width="2.90" height="10.80" fill="#BCBCBC" />
<rect x="125.43" y="85.55" width="2.90" height="10.80" fill="#BCBCBC" />
<rect x="129.85" y="85.55" width="2.90" height="10.80" fill="#BCBCBC" />
<rect x="134.28" y="85.55" width="2.90" height="10.80" fill="#BCBCBC" />
<rect x="138.70" y="85.55" width="2.90" height="10.80" fill="#BCBCBC" />
<rect x="143.12" y="85.55" width="2.90" height="10.80" fill="#BCBCBC" />
<rect x="147.55" y="85.55" width="2.90" height="10.80" fill="#BCBCBC" />
<rect x="151.97" y="85.55" width="2.90" height="10.80" fill="#BCBCBC" />
<rect x="156.40" y="85.55" width="2.90" height="10.80" fill="#BCBCBC" />
<rect x="160.83" y="85.55" width="2.90" height="10.80" fill="#BCBCBC" />
<rect x="165.25" y="85.55" width="2.90" height="10.80" fill="#BCBCBC" />
<rect x="169.68" y="85.55" width="2.90" height="10.80" fill="#BCBCBC" />
<rect x="174.10" y="85.55" width="2.90" height="10.80" fill="#BCBCBC" />
<rect x="178.53" y="85.55" width="2.90" height="10.80" fill="#BCBCBC" />
<rect x="182.95" y="85.55" width="2.90" height="10.80" fill="#BCBCBC" />
<rect x="187.38" y="85.55" width="2.90" height="10.80" fill="#BCBCBC" />
<rect x="191.80" y="85.55" width="2.90" height="10.80" fill="#BCBCBC" />
<rect x="196.22" y="85.55" width="2.90" height="10.80" fill="#BCBCBC" />
<rect x="200.65" y="85.55" width="2.90" height="10.80" fill="#BCBCBC" />
<rect x="205.08" y="85.55" width="2.90" height="10.80" fill="#BCBCBC" />
<rect x="209.50" y="85.55" width="2.90" height="10.80" fill="#BCBCBC" />
<rect x="213.92" y="85.55" width="2.90" height="10.80" fill="#BCBCBC" />
<rect x="218.35" y="85.55" width="2.90" height="10.80" fill="#BCBCBC" />
<rect x="222.78" y="85.55" width="2.90" height="10.80" fill="#BCBCBC" />
<rect x="227.20" y="85.55" width="2.90" height="10.80" fill="#BCBCBC" />
<rect x="231.62" y="85.55" width="2.90" height="10.80" fill="#BCBCBC" />
<rect x="236.05" y="85.55" width="2.90" height="10.80" fill="#BCBCBC" />
<rect x="240.47" y="85.55" width="2.90" height="10.80" fill="#BCBCBC" />
<rect x="244.90" y="85.55" width="2.90" height="10.80" fill="#BCBCBC" />
<rect x="249.32" y="85.55" width="2.90" height="10.80" fill="#BCBCBC" />
<rect x="253.75" y="85.55" width="2.90" height="10.80" fill="#BCBCBC" />
<rect x="258.17" y="85.55" width="2.90" height="10.80" fill="#BCBCBC" />
<rect x="262.60" y="85.55" width="2.90" height="10.80" fill="#BCBCBC" />
<rect x="267.02" y="85.55" width="2.90" height="10.80" fill="#BCBCBC" />
<rect x="271.45" y="85.55" width="2.90" height="10.80" fill="#BCBCBC" />
<rect x="275.88" y="85.55" width="2.90" height="10.80" fill="#BCBCBC" />
<rect x="280.30" y="85.55" width="2.90" height="10.80" fill="#BCBCBC" />
<rect x="284.72" y="85.55" width="2.90" height="10.80" fill="#BCBCBC" />
<rect x="289.15" y="85.55" width="2.90" height="10.80" fill="#BCBCBC" />
<rect x="293.57" y="85.55" width="2.90" height="10.80" fill="#BCBCBC" />
<rect x="298.00" y="85.55" width="2.90" height="10.80" fill="#BCBCBC" />
<rect x="302.42" y="85.55" width="2.90" height="10.80" fill="#BCBCBC" />
<rect x="306.85" y="85.55" width="2.90" height="10.80" fill="#BCBCBC" />
<rect x="311.27" y="85.55" width="2.90" height="10.80" fill="#BCBCBC" />
<rect x="315.70" y="85.55" width="2.90" height="10.80" fill="#BCBCBC" />
<rect x="112.05" y="87.65" width="3.10" height="6.60" fill="#e8fff2" opacity="0.4"/>
<rect x="111.40" y="88.65" width="4.40" height="4.60" fill="#a2f0cb" opacity="0.75"/>
<rect x="112.23" y="89.10" width="2.74" height="3.70" fill="#0C6B3C" />
<rect x="116.48" y="87.65" width="3.10" height="6.60" fill="#e8fff2" opacity="0.4"/>
<rect x="115.83" y="88.65" width="4.40" height="4.60" fill="#a2f0cb" opacity="0.75"/>
<rect x="116.66" y="89.10" width="2.74" height="3.70" fill="#0C6B3C" />
<rect x="138.60" y="87.65" width="3.10" height="6.60" fill="#e8fff2" opacity="0.4"/>
<rect x="137.95" y="88.65" width="4.40" height="4.60" fill="#a2f0cb" opacity="0.75"/>
<rect x="138.78" y="89.10" width="2.74" height="3.70" fill="#1a7249" />
<rect x="156.30" y="87.65" width="3.10" height="6.60" fill="#e8fff2" opacity="0.4"/>
<rect x="155.65" y="88.65" width="4.40" height="4.60" fill="#a2f0cb" opacity="0.75"/>
<rect x="156.48" y="89.10" width="2.74" height="3.70" fill="#1a7249" />
<rect x="231.53" y="87.65" width="3.10" height="6.60" fill="#e8fff2" opacity="0.4"/>
<rect x="230.88" y="88.65" width="4.40" height="4.60" fill="#a2f0cb" opacity="0.75"/>
<rect x="231.71" y="89.10" width="2.74" height="3.70" fill="#1a7249" />
<rect x="249.22" y="87.65" width="3.10" height="6.60" fill="#e8fff2" opacity="0.4"/>
<rect x="248.57" y="88.65" width="4.40" height="4.60" fill="#a2f0cb" opacity="0.75"/>
<rect x="249.41" y="89.10" width="2.74" height="3.70" fill="#0C6B3C" />
<rect x="253.65" y="87.65" width="3.10" height="6.60" fill="#e8fff2" opacity="0.4"/>
<rect x="253.00" y="88.65" width="4.40" height="4.60" fill="#a2f0cb" opacity="0.75"/>
<rect x="253.83" y="89.10" width="2.74" height="3.70" fill="#0C6B3C" />
<rect x="275.77" y="87.65" width="3.10" height="6.60" fill="#e8fff2" opacity="0.4"/>
<rect x="275.12" y="88.65" width="4.40" height="4.60" fill="#a2f0cb" opacity="0.75"/>
<rect x="275.95" y="89.10" width="2.74" height="3.70" fill="#1a7249" />
<rect x="284.62" y="87.65" width="3.10" height="6.60" fill="#e8fff2" opacity="0.4"/>
<rect x="283.97" y="88.65" width="4.40" height="4.60" fill="#a2f0cb" opacity="0.75"/>
<rect x="284.80" y="89.10" width="2.74" height="3.70" fill="#0C6B3C" />
<rect x="289.05" y="87.65" width="3.10" height="6.60" fill="#e8fff2" opacity="0.4"/>
<rect x="288.40" y="88.65" width="4.40" height="4.60" fill="#a2f0cb" opacity="0.75"/>
<rect x="289.23" y="89.10" width="2.74" height="3.70" fill="#0C6B3C" />
<rect x="293.47" y="87.65" width="3.10" height="6.60" fill="#e8fff2" opacity="0.4"/>
<rect x="292.82" y="88.65" width="4.40" height="4.60" fill="#a2f0cb" opacity="0.75"/>
<rect x="293.65" y="89.10" width="2.74" height="3.70" fill="#0C6B3C" />
<rect x="297.90" y="87.65" width="3.10" height="6.60" fill="#e8fff2" opacity="0.4"/>
<rect x="297.25" y="88.65" width="4.40" height="4.60" fill="#a2f0cb" opacity="0.75"/>
<rect x="298.08" y="89.10" width="2.74" height="3.70" fill="#0C6B3C" />
<rect x="302.32" y="87.65" width="3.10" height="6.60" fill="#e8fff2" opacity="0.4"/>
<rect x="301.67" y="88.65" width="4.40" height="4.60" fill="#a2f0cb" opacity="0.75"/>
<rect x="302.50" y="89.10" width="2.74" height="3.70" fill="#0C6B3C" />
<rect x="311.17" y="87.65" width="3.10" height="6.60" fill="#e8fff2" opacity="0.4"/>
<rect x="310.52" y="88.65" width="4.40" height="4.60" fill="#a2f0cb" opacity="0.75"/>
<rect x="311.35" y="89.10" width="2.74" height="3.70" fill="#1a7249" />
<rect x="112.15" y="101.70" width="2.90" height="10.80" fill="#BCBCBC" />
<rect x="116.58" y="101.70" width="2.90" height="10.80" fill="#BCBCBC" />
<rect x="121.00" y="101.70" width="2.90" height="10.80" fill="#BCBCBC" />
<rect x="125.43" y="101.70" width="2.90" height="10.80" fill="#BCBCBC" />
<rect x="129.85" y="101.70" width="2.90" height="10.80" fill="#BCBCBC" />
<rect x="134.28" y="101.70" width="2.90" height="10.80" fill="#BCBCBC" />
<rect x="138.70" y="101.70" width="2.90" height="10.80" fill="#BCBCBC" />
<rect x="143.12" y="101.70" width="2.90" height="10.80" fill="#BCBCBC" />
<rect x="147.55" y="101.70" width="2.90" height="10.80" fill="#BCBCBC" />
<rect x="151.97" y="101.70" width="2.90" height="10.80" fill="#BCBCBC" />
<rect x="156.40" y="101.70" width="2.90" height="10.80" fill="#BCBCBC" />
<rect x="160.83" y="101.70" width="2.90" height="10.80" fill="#BCBCBC" />
<rect x="165.25" y="101.70" width="2.90" height="10.80" fill="#BCBCBC" />
<rect x="169.68" y="101.70" width="2.90" height="10.80" fill="#BCBCBC" />
<rect x="174.10" y="101.70" width="2.90" height="10.80" fill="#BCBCBC" />
<rect x="178.53" y="101.70" width="2.90" height="10.80" fill="#BCBCBC" />
<rect x="182.95" y="101.70" width="2.90" height="10.80" fill="#BCBCBC" />
<rect x="187.38" y="101.70" width="2.90" height="10.80" fill="#BCBCBC" />
<rect x="191.80" y="101.70" width="2.90" height="10.80" fill="#BCBCBC" />
<rect x="196.22" y="101.70" width="2.90" height="10.80" fill="#BCBCBC" />
<rect x="200.65" y="101.70" width="2.90" height="10.80" fill="#BCBCBC" />
<rect x="205.08" y="101.70" width="2.90" height="10.80" fill="#BCBCBC" />
<rect x="209.50" y="101.70" width="2.90" height="10.80" fill="#BCBCBC" />
<rect x="213.92" y="101.70" width="2.90" height="10.80" fill="#BCBCBC" />
<rect x="218.35" y="101.70" width="2.90" height="10.80" fill="#BCBCBC" />
<rect x="222.78" y="101.70" width="2.90" height="10.80" fill="#BCBCBC" />
<rect x="227.20" y="101.70" width="2.90" height="10.80" fill="#BCBCBC" />
<rect x="231.62" y="101.70" width="2.90" height="10.80" fill="#BCBCBC" />
<rect x="236.05" y="101.70" width="2.90" height="10.80" fill="#BCBCBC" />
<rect x="240.47" y="101.70" width="2.90" height="10.80" fill="#BCBCBC" />
<rect x="244.90" y="101.70" width="2.90" height="10.80" fill="#BCBCBC" />
<rect x="249.32" y="101.70" width="2.90" height="10.80" fill="#BCBCBC" />
<rect x="253.75" y="101.70" width="2.90" height="10.80" fill="#BCBCBC" />
<rect x="258.17" y="101.70" width="2.90" height="10.80" fill="#BCBCBC" />
<rect x="262.60" y="101.70" width="2.90" height="10.80" fill="#BCBCBC" />
<rect x="267.02" y="101.70" width="2.90" height="10.80" fill="#BCBCBC" />
<rect x="271.45" y="101.70" width="2.90" height="10.80" fill="#BCBCBC" />
<rect x="275.88" y="101.70" width="2.90" height="10.80" fill="#BCBCBC" />
<rect x="280.30" y="101.70" width="2.90" height="10.80" fill="#BCBCBC" />
<rect x="284.72" y="101.70" width="2.90" height="10.80" fill="#BCBCBC" />
<rect x="289.15" y="101.70" width="2.90" height="10.80" fill="#BCBCBC" />
<rect x="293.57" y="101.70" width="2.90" height="10.80" fill="#BCBCBC" />
<rect x="298.00" y="101.70" width="2.90" height="10.80" fill="#BCBCBC" />
<rect x="302.42" y="101.70" width="2.90" height="10.80" fill="#BCBCBC" />
<rect x="306.85" y="101.70" width="2.90" height="10.80" fill="#BCBCBC" />
<rect x="311.27" y="101.70" width="2.90" height="10.80" fill="#BCBCBC" />
<rect x="315.70" y="101.70" width="2.90" height="10.80" fill="#BCBCBC" />
<rect x="120.90" y="103.80" width="3.10" height="6.60" fill="#e8fff2" opacity="0.4"/>
<rect x="120.25" y="104.80" width="4.40" height="4.60" fill="#a2f0cb" opacity="0.75"/>
<rect x="121.08" y="105.25" width="2.74" height="3.70" fill="#0C6B3C" />
<rect x="125.33" y="103.80" width="3.10" height="6.60" fill="#e8fff2" opacity="0.4"/>
<rect x="124.68" y="104.80" width="4.40" height="4.60" fill="#a2f0cb" opacity="0.75"/>
<rect x="125.51" y="105.25" width="2.74" height="3.70" fill="#0C6B3C" />
<rect x="143.03" y="103.80" width="3.10" height="6.60" fill="#e8fff2" opacity="0.4"/>
<rect x="142.38" y="104.80" width="4.40" height="4.60" fill="#a2f0cb" opacity="0.75"/>
<rect x="143.21" y="105.25" width="2.74" height="3.70" fill="#1a7249" />
<rect x="258.07" y="103.80" width="3.10" height="6.60" fill="#e8fff2" opacity="0.4"/>
<rect x="257.42" y="104.80" width="4.40" height="4.60" fill="#a2f0cb" opacity="0.75"/>
<rect x="258.25" y="105.25" width="2.74" height="3.70" fill="#1a7249" />
<rect x="112.15" y="117.85" width="2.90" height="10.80" fill="#BCBCBC" />
<rect x="116.58" y="117.85" width="2.90" height="10.80" fill="#BCBCBC" />
<rect x="121.00" y="117.85" width="2.90" height="10.80" fill="#BCBCBC" />
<rect x="125.43" y="117.85" width="2.90" height="10.80" fill="#BCBCBC" />
<rect x="129.85" y="117.85" width="2.90" height="10.80" fill="#BCBCBC" />
<rect x="134.28" y="117.85" width="2.90" height="10.80" fill="#BCBCBC" />
<rect x="138.70" y="117.85" width="2.90" height="10.80" fill="#BCBCBC" />
<rect x="143.12" y="117.85" width="2.90" height="10.80" fill="#BCBCBC" />
<rect x="147.55" y="117.85" width="2.90" height="10.80" fill="#BCBCBC" />
<rect x="151.97" y="117.85" width="2.90" height="10.80" fill="#BCBCBC" />
<rect x="156.40" y="117.85" width="2.90" height="10.80" fill="#BCBCBC" />
<rect x="160.83" y="117.85" width="2.90" height="10.80" fill="#BCBCBC" />
<rect x="165.25" y="117.85" width="2.90" height="10.80" fill="#BCBCBC" />
<rect x="169.68" y="117.85" width="2.90" height="10.80" fill="#BCBCBC" />
<rect x="174.10" y="117.85" width="2.90" height="10.80" fill="#BCBCBC" />
<rect x="178.53" y="117.85" width="2.90" height="10.80" fill="#BCBCBC" />
<rect x="182.95" y="117.85" width="2.90" height="10.80" fill="#BCBCBC" />
<rect x="187.38" y="117.85" width="2.90" height="10.80" fill="#BCBCBC" />
<rect x="191.80" y="117.85" width="2.90" height="10.80" fill="#BCBCBC" />
<rect x="196.22" y="117.85" width="2.90" height="10.80" fill="#BCBCBC" />
<rect x="200.65" y="117.85" width="2.90" height="10.80" fill="#BCBCBC" />
<rect x="205.08" y="117.85" width="2.90" height="10.80" fill="#BCBCBC" />
<rect x="209.50" y="117.85" width="2.90" height="10.80" fill="#BCBCBC" />
<rect x="213.92" y="117.85" width="2.90" height="10.80" fill="#BCBCBC" />
<rect x="218.35" y="117.85" width="2.90" height="10.80" fill="#BCBCBC" />
<rect x="222.78" y="117.85" width="2.90" height="10.80" fill="#BCBCBC" />
<rect x="227.20" y="117.85" width="2.90" height="10.80" fill="#BCBCBC" />
<rect x="231.62" y="117.85" width="2.90" height="10.80" fill="#BCBCBC" />
<rect x="236.05" y="117.85" width="2.90" height="10.80" fill="#BCBCBC" />
<rect x="240.47" y="117.85" width="2.90" height="10.80" fill="#BCBCBC" />
<rect x="244.90" y="117.85" width="2.90" height="10.80" fill="#BCBCBC" />
<rect x="249.32" y="117.85" width="2.90" height="10.80" fill="#BCBCBC" />
<rect x="253.75" y="117.85" width="2.90" height="10.80" fill="#BCBCBC" />
<rect x="258.17" y="117.85" width="2.90" height="10.80" fill="#BCBCBC" />
<rect x="262.60" y="117.85" width="2.90" height="10.80" fill="#BCBCBC" />
<rect x="267.02" y="117.85" width="2.90" height="10.80" fill="#BCBCBC" />
<rect x="271.45" y="117.85" width="2.90" height="10.80" fill="#BCBCBC" />
<rect x="275.88" y="117.85" width="2.90" height="10.80" fill="#BCBCBC" />
<rect x="280.30" y="117.85" width="2.90" height="10.80" fill="#BCBCBC" />
<rect x="284.72" y="117.85" width="2.90" height="10.80" fill="#BCBCBC" />
<rect x="289.15" y="117.85" width="2.90" height="10.80" fill="#BCBCBC" />
<rect x="293.57" y="117.85" width="2.90" height="10.80" fill="#BCBCBC" />
<rect x="298.00" y="117.85" width="2.90" height="10.80" fill="#BCBCBC" />
<rect x="302.42" y="117.85" width="2.90" height="10.80" fill="#BCBCBC" />
<rect x="306.85" y="117.85" width="2.90" height="10.80" fill="#BCBCBC" />
<rect x="311.27" y="117.85" width="2.90" height="10.80" fill="#BCBCBC" />
<rect x="315.70" y="117.85" width="2.90" height="10.80" fill="#BCBCBC" />
<rect x="120.90" y="119.95" width="3.10" height="6.60" fill="#e8fff2" opacity="0.4"/>
<rect x="120.25" y="120.95" width="4.40" height="4.60" fill="#a2f0cb" opacity="0.75"/>
<rect x="121.08" y="121.40" width="2.74" height="3.70" fill="#1a7249" />
<rect x="129.75" y="119.95" width="3.10" height="6.60" fill="#e8fff2" opacity="0.4"/>
<rect x="129.10" y="120.95" width="4.40" height="4.60" fill="#a2f0cb" opacity="0.75"/>
<rect x="129.93" y="121.40" width="2.74" height="3.70" fill="#1a7249" />
<rect x="262.50" y="119.95" width="3.10" height="6.60" fill="#e8fff2" opacity="0.4"/>
<rect x="261.85" y="120.95" width="4.40" height="4.60" fill="#a2f0cb" opacity="0.75"/>
<rect x="262.68" y="121.40" width="2.74" height="3.70" fill="#1a7249" />
<rect x="275.77" y="119.95" width="3.10" height="6.60" fill="#e8fff2" opacity="0.4"/>
<rect x="275.12" y="120.95" width="4.40" height="4.60" fill="#a2f0cb" opacity="0.75"/>
<rect x="275.95" y="121.40" width="2.74" height="3.70" fill="#1a7249" />
<rect x="112.15" y="134.00" width="2.90" height="10.80" fill="#BCBCBC" />
<rect x="116.58" y="134.00" width="2.90" height="10.80" fill="#BCBCBC" />
<rect x="121.00" y="134.00" width="2.90" height="10.80" fill="#BCBCBC" />
<rect x="125.43" y="134.00" width="2.90" height="10.80" fill="#BCBCBC" />
<rect x="129.85" y="134.00" width="2.90" height="10.80" fill="#BCBCBC" />
<rect x="134.28" y="134.00" width="2.90" height="10.80" fill="#BCBCBC" />
<rect x="138.70" y="134.00" width="2.90" height="10.80" fill="#BCBCBC" />
<rect x="143.12" y="134.00" width="2.90" height="10.80" fill="#BCBCBC" />
<rect x="147.55" y="134.00" width="2.90" height="10.80" fill="#BCBCBC" />
<rect x="151.97" y="134.00" width="2.90" height="10.80" fill="#BCBCBC" />
<rect x="156.40" y="134.00" width="2.90" height="10.80" fill="#BCBCBC" />
<rect x="160.83" y="134.00" width="2.90" height="10.80" fill="#BCBCBC" />
<rect x="165.25" y="134.00" width="2.90" height="10.80" fill="#BCBCBC" />
<rect x="169.68" y="134.00" width="2.90" height="10.80" fill="#BCBCBC" />
<rect x="174.10" y="134.00" width="2.90" height="10.80" fill="#BCBCBC" />
<rect x="178.53" y="134.00" width="2.90" height="10.80" fill="#BCBCBC" />
<rect x="182.95" y="134.00" width="2.90" height="10.80" fill="#BCBCBC" />
<rect x="187.38" y="134.00" width="2.90" height="10.80" fill="#BCBCBC" />
<rect x="191.80" y="134.00" width="2.90" height="10.80" fill="#BCBCBC" />
<rect x="196.22" y="134.00" width="2.90" height="10.80" fill="#BCBCBC" />
<rect x="200.65" y="134.00" width="2.90" height="10.80" fill="#BCBCBC" />
<rect x="205.08" y="134.00" width="2.90" height="10.80" fill="#BCBCBC" />
<rect x="209.50" y="134.00" width="2.90" height="10.80" fill="#BCBCBC" />
<rect x="213.92" y="134.00" width="2.90" height="10.80" fill="#BCBCBC" />
<rect x="218.35" y="134.00" width="2.90" height="10.80" fill="#BCBCBC" />
<rect x="222.78" y="134.00" width="2.90" height="10.80" fill="#BCBCBC" />
<rect x="227.20" y="134.00" width="2.90" height="10.80" fill="#BCBCBC" />
<rect x="231.62" y="134.00" width="2.90" height="10.80" fill="#BCBCBC" />
<rect x="236.05" y="134.00" width="2.90" height="10.80" fill="#BCBCBC" />
<rect x="240.47" y="134.00" width="2.90" height="10.80" fill="#BCBCBC" />
<rect x="244.90" y="134.00" width="2.90" height="10.80" fill="#BCBCBC" />
<rect x="249.32" y="134.00" width="2.90" height="10.80" fill="#BCBCBC" />
<rect x="253.75" y="134.00" width="2.90" height="10.80" fill="#BCBCBC" />
<rect x="258.17" y="134.00" width="2.90" height="10.80" fill="#BCBCBC" />
<rect x="262.60" y="134.00" width="2.90" height="10.80" fill="#BCBCBC" />
<rect x="267.02" y="134.00" width="2.90" height="10.80" fill="#BCBCBC" />
<rect x="271.45" y="134.00" width="2.90" height="10.80" fill="#BCBCBC" />
<rect x="275.88" y="134.00" width="2.90" height="10.80" fill="#BCBCBC" />
<rect x="280.30" y="134.00" width="2.90" height="10.80" fill="#BCBCBC" />
<rect x="284.72" y="134.00" width="2.90" height="10.80" fill="#BCBCBC" />
<rect x="289.15" y="134.00" width="2.90" height="10.80" fill="#BCBCBC" />
<rect x="293.57" y="134.00" width="2.90" height="10.80" fill="#BCBCBC" />
<rect x="298.00" y="134.00" width="2.90" height="10.80" fill="#BCBCBC" />
<rect x="302.42" y="134.00" width="2.90" height="10.80" fill="#BCBCBC" />
<rect x="306.85" y="134.00" width="2.90" height="10.80" fill="#BCBCBC" />
<rect x="311.27" y="134.00" width="2.90" height="10.80" fill="#BCBCBC" />
<rect x="315.70" y="134.00" width="2.90" height="10.80" fill="#BCBCBC" />
<rect x="227.10" y="136.10" width="3.10" height="6.60" fill="#e8fff2" opacity="0.4"/>
<rect x="226.45" y="137.10" width="4.40" height="4.60" fill="#a2f0cb" opacity="0.75"/>
<rect x="227.28" y="137.55" width="2.74" height="3.70" fill="#1a7249" />
<rect x="205.13" y="137.30" width="2.80" height="4.20" fill="#111111" />
<rect x="284.77" y="137.30" width="2.80" height="4.20" fill="#111111" />
<rect x="311.32" y="137.30" width="2.80" height="4.20" fill="#111111" />
<rect x="112.15" y="150.15" width="2.90" height="10.80" fill="#BCBCBC" />
<rect x="116.58" y="150.15" width="2.90" height="10.80" fill="#BCBCBC" />
<rect x="121.00" y="150.15" width="2.90" height="10.80" fill="#BCBCBC" />
<rect x="125.43" y="150.15" width="2.90" height="10.80" fill="#BCBCBC" />
<rect x="129.85" y="150.15" width="2.90" height="10.80" fill="#BCBCBC" />
<rect x="134.28" y="150.15" width="2.90" height="10.80" fill="#BCBCBC" />
<rect x="138.70" y="150.15" width="2.90" height="10.80" fill="#BCBCBC" />
<rect x="143.12" y="150.15" width="2.90" height="10.80" fill="#BCBCBC" />
<rect x="147.55" y="150.15" width="2.90" height="10.80" fill="#BCBCBC" />
<rect x="151.97" y="150.15" width="2.90" height="10.80" fill="#BCBCBC" />
<rect x="156.40" y="150.15" width="2.90" height="10.80" fill="#BCBCBC" />
<rect x="160.83" y="150.15" width="2.90" height="10.80" fill="#BCBCBC" />
<rect x="165.25" y="150.15" width="2.90" height="10.80" fill="#BCBCBC" />
<rect x="169.68" y="150.15" width="2.90" height="10.80" fill="#BCBCBC" />
<rect x="174.10" y="150.15" width="2.90" height="10.80" fill="#BCBCBC" />
<rect x="178.53" y="150.15" width="2.90" height="10.80" fill="#BCBCBC" />
<rect x="182.95" y="150.15" width="2.90" height="10.80" fill="#BCBCBC" />
<rect x="187.38" y="150.15" width="2.90" height="10.80" fill="#BCBCBC" />
<rect x="191.80" y="150.15" width="2.90" height="10.80" fill="#BCBCBC" />
<rect x="196.22" y="150.15" width="2.90" height="10.80" fill="#BCBCBC" />
<rect x="200.65" y="150.15" width="2.90" height="10.80" fill="#BCBCBC" />
<rect x="205.08" y="150.15" width="2.90" height="10.80" fill="#BCBCBC" />
<rect x="209.50" y="150.15" width="2.90" height="10.80" fill="#BCBCBC" />
<rect x="213.92" y="150.15" width="2.90" height="10.80" fill="#BCBCBC" />
<rect x="218.35" y="150.15" width="2.90" height="10.80" fill="#BCBCBC" />
<rect x="222.78" y="150.15" width="2.90" height="10.80" fill="#BCBCBC" />
<rect x="227.20" y="150.15" width="2.90" height="10.80" fill="#BCBCBC" />
<rect x="231.62" y="150.15" width="2.90" height="10.80" fill="#BCBCBC" />
<rect x="236.05" y="150.15" width="2.90" height="10.80" fill="#BCBCBC" />
<rect x="240.47" y="150.15" width="2.90" height="10.80" fill="#BCBCBC" />
<rect x="244.90" y="150.15" width="2.90" height="10.80" fill="#BCBCBC" />
<rect x="249.32" y="150.15" width="2.90" height="10.80" fill="#BCBCBC" />
<rect x="253.75" y="150.15" width="2.90" height="10.80" fill="#BCBCBC" />
<rect x="258.17" y="150.15" width="2.90" height="10.80" fill="#BCBCBC" />
<rect x="262.60" y="150.15" width="2.90" height="10.80" fill="#BCBCBC" />
<rect x="267.02" y="150.15" width="2.90" height="10.80" fill="#BCBCBC" />
<rect x="271.45" y="150.15" width="2.90" height="10.80" fill="#BCBCBC" />
<rect x="275.88" y="150.15" width="2.90" height="10.80" fill="#BCBCBC" />
<rect x="280.30" y="150.15" width="2.90" height="10.80" fill="#BCBCBC" />
<rect x="284.72" y="150.15" width="2.90" height="10.80" fill="#BCBCBC" />
<rect x="289.15" y="150.15" width="2.90" height="10.80" fill="#BCBCBC" />
<rect x="293.57" y="150.15" width="2.90" height="10.80" fill="#BCBCBC" />
<rect x="298.00" y="150.15" width="2.90" height="10.80" fill="#BCBCBC" />
<rect x="302.42" y="150.15" width="2.90" height="10.80" fill="#BCBCBC" />
<rect x="306.85" y="150.15" width="2.90" height="10.80" fill="#BCBCBC" />
<rect x="311.27" y="150.15" width="2.90" height="10.80" fill="#BCBCBC" />
<rect x="315.70" y="150.15" width="2.90" height="10.80" fill="#BCBCBC" />
<rect x="138.60" y="152.25" width="3.10" height="6.60" fill="#e8fff2" opacity="0.4"/>
<rect x="137.95" y="153.25" width="4.40" height="4.60" fill="#a2f0cb" opacity="0.75"/>
<rect x="138.78" y="153.70" width="2.74" height="3.70" fill="#1a7249" />
<rect x="231.53" y="152.25" width="3.10" height="6.60" fill="#e8fff2" opacity="0.4"/>
<rect x="230.88" y="153.25" width="4.40" height="4.60" fill="#a2f0cb" opacity="0.75"/>
<rect x="231.71" y="153.70" width="2.74" height="3.70" fill="#1a7249" />
<rect x="244.95" y="153.45" width="2.80" height="4.20" fill="#111111" />
<rect x="112.15" y="166.30" width="2.90" height="10.80" fill="#BCBCBC" />
<rect x="116.58" y="166.30" width="2.90" height="10.80" fill="#BCBCBC" />
<rect x="121.00" y="166.30" width="2.90" height="10.80" fill="#BCBCBC" />
<rect x="125.43" y="166.30" width="2.90" height="10.80" fill="#BCBCBC" />
<rect x="129.85" y="166.30" width="2.90" height="10.80" fill="#BCBCBC" />
<rect x="134.28" y="166.30" width="2.90" height="10.80" fill="#BCBCBC" />
<rect x="138.70" y="166.30" width="2.90" height="10.80" fill="#BCBCBC" />
<rect x="143.12" y="166.30" width="2.90" height="10.80" fill="#BCBCBC" />
<rect x="147.55" y="166.30" width="2.90" height="10.80" fill="#BCBCBC" />
<rect x="151.97" y="166.30" width="2.90" height="10.80" fill="#BCBCBC" />
<rect x="156.40" y="166.30" width="2.90" height="10.80" fill="#BCBCBC" />
<rect x="160.83" y="166.30" width="2.90" height="10.80" fill="#BCBCBC" />
<rect x="165.25" y="166.30" width="2.90" height="10.80" fill="#BCBCBC" />
<rect x="169.68" y="166.30" width="2.90" height="10.80" fill="#BCBCBC" />
<rect x="174.10" y="166.30" width="2.90" height="10.80" fill="#BCBCBC" />
<rect x="178.53" y="166.30" width="2.90" height="10.80" fill="#BCBCBC" />
<rect x="182.95" y="166.30" width="2.90" height="10.80" fill="#BCBCBC" />
<rect x="187.38" y="166.30" width="2.90" height="10.80" fill="#BCBCBC" />
<rect x="191.80" y="166.30" width="2.90" height="10.80" fill="#BCBCBC" />
<rect x="196.22" y="166.30" width="2.90" height="10.80" fill="#BCBCBC" />
<rect x="200.65" y="166.30" width="2.90" height="10.80" fill="#BCBCBC" />
<rect x="205.08" y="166.30" width="2.90" height="10.80" fill="#BCBCBC" />
<rect x="209.50" y="166.30" width="2.90" height="10.80" fill="#BCBCBC" />
<rect x="213.92" y="166.30" width="2.90" height="10.80" fill="#BCBCBC" />
<rect x="218.35" y="166.30" width="2.90" height="10.80" fill="#BCBCBC" />
<rect x="222.78" y="166.30" width="2.90" height="10.80" fill="#BCBCBC" />
<rect x="227.20" y="166.30" width="2.90" height="10.80" fill="#BCBCBC" />
<rect x="231.62" y="166.30" width="2.90" height="10.80" fill="#BCBCBC" />
<rect x="236.05" y="166.30" width="2.90" height="10.80" fill="#BCBCBC" />
<rect x="240.47" y="166.30" width="2.90" height="10.80" fill="#BCBCBC" />
<rect x="244.90" y="166.30" width="2.90" height="10.80" fill="#BCBCBC" />
<rect x="249.32" y="166.30" width="2.90" height="10.80" fill="#BCBCBC" />
<rect x="253.75" y="166.30" width="2.90" height="10.80" fill="#BCBCBC" />
<rect x="258.17" y="166.30" width="2.90" height="10.80" fill="#BCBCBC" />
<rect x="262.60" y="166.30" width="2.90" height="10.80" fill="#BCBCBC" />
<rect x="267.02" y="166.30" width="2.90" height="10.80" fill="#BCBCBC" />
<rect x="271.45" y="166.30" width="2.90" height="10.80" fill="#BCBCBC" />
<rect x="275.88" y="166.30" width="2.90" height="10.80" fill="#BCBCBC" />
<rect x="280.30" y="166.30" width="2.90" height="10.80" fill="#BCBCBC" />
<rect x="284.72" y="166.30" width="2.90" height="10.80" fill="#BCBCBC" />
<rect x="289.15" y="166.30" width="2.90" height="10.80" fill="#BCBCBC" />
<rect x="293.57" y="166.30" width="2.90" height="10.80" fill="#BCBCBC" />
<rect x="298.00" y="166.30" width="2.90" height="10.80" fill="#BCBCBC" />
<rect x="302.42" y="166.30" width="2.90" height="10.80" fill="#BCBCBC" />
<rect x="306.85" y="166.30" width="2.90" height="10.80" fill="#BCBCBC" />
<rect x="311.27" y="166.30" width="2.90" height="10.80" fill="#BCBCBC" />
<rect x="315.70" y="166.30" width="2.90" height="10.80" fill="#BCBCBC" />
<rect x="112.05" y="168.40" width="3.10" height="6.60" fill="#e8fff2" opacity="0.4"/>
<rect x="111.40" y="169.40" width="4.40" height="4.60" fill="#a2f0cb" opacity="0.75"/>
<rect x="112.23" y="169.85" width="2.74" height="3.70" fill="#1a7249" />
<rect x="125.33" y="168.40" width="3.10" height="6.60" fill="#e8fff2" opacity="0.4"/>
<rect x="124.68" y="169.40" width="4.40" height="4.60" fill="#a2f0cb" opacity="0.75"/>
<rect x="125.51" y="169.85" width="2.74" height="3.70" fill="#1a7249" />
<rect x="365.40" y="20.80" width="2.70" height="10.60" fill="#F1EC5C" />
<rect x="409.70" y="20.80" width="2.70" height="10.60" fill="#6E9BD0" />
<rect x="365.40" y="36.80" width="2.70" height="10.60" fill="#A6DBF4" />
<rect x="409.70" y="36.80" width="2.70" height="10.60" fill="#F3A5C6" />
<rect x="365.40" y="53.20" width="2.70" height="10.60" fill="#C4127F" />
<rect x="409.70" y="53.20" width="2.70" height="10.60" fill="#0B5A22" />
<rect x="452.20" y="53.20" width="2.70" height="10.60" fill="#F39A25" />
<rect x="488.15" y="53.45" width="2.10" height="10.10" fill="#fff" stroke="#d0d0d0" stroke-width="0.5"/>
<rect x="365.50" y="122.80" width="2.60" height="3.80" fill="#1d8552" />
<rect x="410.90" y="122.80" width="2.80" height="3.80" fill="#111111" />
<rect x="452.30" y="118.90" width="3.00" height="10.70" fill="#C2C2C2" />
<line x1="9.70" y1="204.70" x2="363.60" y2="204.70" stroke="#646464" stroke-width="1.05"/>
<line x1="9.70" y1="270.40" x2="363.60" y2="270.40" stroke="#646464" stroke-width="1.05"/>
<line x1="10.30" y1="204.70" x2="10.30" y2="270.40" stroke="#646464" stroke-width="1.05"/>
<line x1="363.00" y1="204.70" x2="363.00" y2="270.40" stroke="#646464" stroke-width="1.05"/>
<line x1="90.40" y1="204.70" x2="90.40" y2="270.40" stroke="#7c7c7c" stroke-width="0.8"/>
<line x1="340.70" y1="204.70" x2="340.70" y2="270.40" stroke="#7c7c7c" stroke-width="0.7"/>
<rect x="111.39" y="208.20" width="4.42" height="10.80" fill="#C4127F" opacity="0.15"/>
<rect x="112.28" y="207.90" width="2.65" height="11.40" fill="#C4127F" />
<rect x="115.81" y="208.20" width="4.42" height="10.80" fill="#C4127F" opacity="0.15"/>
<rect x="116.70" y="207.90" width="2.65" height="11.40" fill="#C4127F" />
<rect x="120.24" y="208.20" width="4.42" height="10.80" fill="#C4127F" opacity="0.15"/>
<rect x="121.12" y="207.90" width="2.65" height="11.40" fill="#C4127F" />
<rect x="124.66" y="208.20" width="4.42" height="10.80" fill="#C4127F" opacity="0.15"/>
<rect x="125.55" y="207.90" width="2.65" height="11.40" fill="#C4127F" />
<rect x="129.09" y="208.20" width="4.42" height="10.80" fill="#C4127F" opacity="0.15"/>
<rect x="129.97" y="207.90" width="2.65" height="11.40" fill="#C4127F" />
<rect x="133.51" y="208.20" width="4.42" height="10.80" fill="#C4127F" opacity="0.15"/>
<rect x="134.40" y="207.90" width="2.65" height="11.40" fill="#C4127F" />
<rect x="137.94" y="208.20" width="4.42" height="10.80" fill="#C4127F" opacity="0.15"/>
<rect x="138.83" y="207.90" width="2.65" height="11.40" fill="#C4127F" />
<rect x="142.36" y="208.20" width="4.42" height="10.80" fill="#C4127F" opacity="0.15"/>
<rect x="143.25" y="207.90" width="2.65" height="11.40" fill="#C4127F" />
<rect x="146.79" y="208.20" width="4.42" height="10.80" fill="#C4127F" opacity="0.15"/>
<rect x="147.68" y="207.90" width="2.65" height="11.40" fill="#C4127F" />
<rect x="151.21" y="208.20" width="4.42" height="10.80" fill="#C4127F" opacity="0.15"/>
<rect x="152.10" y="207.90" width="2.65" height="11.40" fill="#C4127F" />
<rect x="155.64" y="208.20" width="4.42" height="10.80" fill="#C4127F" opacity="0.15"/>
<rect x="156.53" y="207.90" width="2.65" height="11.40" fill="#C4127F" />
<rect x="160.06" y="208.20" width="4.42" height="10.80" fill="#C4127F" opacity="0.15"/>
<rect x="160.95" y="207.90" width="2.65" height="11.40" fill="#C4127F" />
<rect x="164.49" y="208.20" width="4.42" height="10.80" fill="#C4127F" opacity="0.15"/>
<rect x="165.38" y="207.90" width="2.65" height="11.40" fill="#C4127F" />
<rect x="168.91" y="208.20" width="4.42" height="10.80" fill="#C4127F" opacity="0.15"/>
<rect x="169.80" y="207.90" width="2.65" height="11.40" fill="#C4127F" />
<rect x="173.34" y="208.20" width="4.42" height="10.80" fill="#C4127F" opacity="0.15"/>
<rect x="174.22" y="207.90" width="2.65" height="11.40" fill="#C4127F" />
<rect x="177.76" y="208.20" width="4.42" height="10.80" fill="#C4127F" opacity="0.15"/>
<rect x="178.65" y="207.90" width="2.65" height="11.40" fill="#C4127F" />
<rect x="182.19" y="208.20" width="4.42" height="10.80" fill="#0B5A22" opacity="0.15"/>
<rect x="183.08" y="207.90" width="2.65" height="11.40" fill="#0B5A22" />
<rect x="186.61" y="208.20" width="4.42" height="10.80" fill="#0B5A22" opacity="0.15"/>
<rect x="187.50" y="207.90" width="2.65" height="11.40" fill="#0B5A22" />
<rect x="191.04" y="208.20" width="4.42" height="10.80" fill="#0B5A22" opacity="0.15"/>
<rect x="191.92" y="207.90" width="2.65" height="11.40" fill="#0B5A22" />
<rect x="195.46" y="208.20" width="4.42" height="10.80" fill="#0B5A22" opacity="0.15"/>
<rect x="196.35" y="207.90" width="2.65" height="11.40" fill="#0B5A22" />
<rect x="199.89" y="208.20" width="4.42" height="10.80" fill="#0B5A22" opacity="0.15"/>
<rect x="200.78" y="207.90" width="2.65" height="11.40" fill="#0B5A22" />
<rect x="204.31" y="208.20" width="4.42" height="10.80" fill="#0B5A22" opacity="0.15"/>
<rect x="205.20" y="207.90" width="2.65" height="11.40" fill="#0B5A22" />
<rect x="208.74" y="208.20" width="4.42" height="10.80" fill="#0B5A22" opacity="0.15"/>
<rect x="209.62" y="207.90" width="2.65" height="11.40" fill="#0B5A22" />
<rect x="213.16" y="208.20" width="4.42" height="10.80" fill="#0B5A22" opacity="0.15"/>
<rect x="214.05" y="207.90" width="2.65" height="11.40" fill="#0B5A22" />
<rect x="217.59" y="208.20" width="4.42" height="10.80" fill="#0B5A22" opacity="0.15"/>
<rect x="218.47" y="207.90" width="2.65" height="11.40" fill="#0B5A22" />
<rect x="222.01" y="208.20" width="4.42" height="10.80" fill="#0B5A22" opacity="0.15"/>
<rect x="222.90" y="207.90" width="2.65" height="11.40" fill="#0B5A22" />
<rect x="226.44" y="208.20" width="4.42" height="10.80" fill="#0B5A22" opacity="0.15"/>
<rect x="227.33" y="207.90" width="2.65" height="11.40" fill="#0B5A22" />
<rect x="230.86" y="208.20" width="4.42" height="10.80" fill="#0B5A22" opacity="0.15"/>
<rect x="231.75" y="207.90" width="2.65" height="11.40" fill="#0B5A22" />
<rect x="235.29" y="208.20" width="4.42" height="10.80" fill="#0B5A22" opacity="0.15"/>
<rect x="236.17" y="207.90" width="2.65" height="11.40" fill="#0B5A22" />
<rect x="239.71" y="208.20" width="4.42" height="10.80" fill="#0B5A22" opacity="0.15"/>
<rect x="240.60" y="207.90" width="2.65" height="11.40" fill="#0B5A22" />
<rect x="244.14" y="208.20" width="4.42" height="10.80" fill="#0B5A22" opacity="0.15"/>
<rect x="245.03" y="207.90" width="2.65" height="11.40" fill="#0B5A22" />
<rect x="248.56" y="208.20" width="4.42" height="10.80" fill="#0B5A22" opacity="0.15"/>
<rect x="249.45" y="207.90" width="2.65" height="11.40" fill="#0B5A22" />
<rect x="252.99" y="208.20" width="4.42" height="10.80" fill="#0B5A22" opacity="0.15"/>
<rect x="253.88" y="207.90" width="2.65" height="11.40" fill="#0B5A22" />
<rect x="257.41" y="208.20" width="4.42" height="10.80" fill="#0B5A22" opacity="0.15"/>
<rect x="258.30" y="207.90" width="2.65" height="11.40" fill="#0B5A22" />
<rect x="261.84" y="208.20" width="4.42" height="10.80" fill="#0B5A22" opacity="0.15"/>
<rect x="262.72" y="207.90" width="2.65" height="11.40" fill="#0B5A22" />
<rect x="266.26" y="208.20" width="4.42" height="10.80" fill="#0B5A22" opacity="0.15"/>
<rect x="267.15" y="207.90" width="2.65" height="11.40" fill="#0B5A22" />
<rect x="270.69" y="208.20" width="4.42" height="10.80" fill="#0B5A22" opacity="0.15"/>
<rect x="271.57" y="207.90" width="2.65" height="11.40" fill="#0B5A22" />
<rect x="275.11" y="208.20" width="4.42" height="10.80" fill="#0B5A22" opacity="0.15"/>
<rect x="276.00" y="207.90" width="2.65" height="11.40" fill="#0B5A22" />
<rect x="279.54" y="208.20" width="4.42" height="10.80" fill="#F39A25" opacity="0.15"/>
<rect x="280.27" y="207.90" width="2.95" height="11.40" fill="#F39A25" />
<rect x="283.96" y="208.20" width="4.42" height="10.80" fill="#F39A25" opacity="0.15"/>
<rect x="284.70" y="207.90" width="2.95" height="11.40" fill="#F39A25" />
<rect x="288.39" y="208.20" width="4.42" height="10.80" fill="#F39A25" opacity="0.15"/>
<rect x="289.12" y="207.90" width="2.95" height="11.40" fill="#F39A25" />
<rect x="292.81" y="208.20" width="4.42" height="10.80" fill="#F39A25" opacity="0.15"/>
<rect x="293.55" y="207.90" width="2.95" height="11.40" fill="#F39A25" />
<rect x="297.24" y="208.20" width="4.42" height="10.80" fill="#F39A25" opacity="0.15"/>
<rect x="297.98" y="207.90" width="2.95" height="11.40" fill="#F39A25" />
<rect x="301.66" y="208.20" width="4.42" height="10.80" fill="#F39A25" opacity="0.15"/>
<rect x="302.40" y="207.90" width="2.95" height="11.40" fill="#F39A25" />
<rect x="306.09" y="208.20" width="4.42" height="10.80" fill="#F39A25" opacity="0.15"/>
<rect x="306.82" y="207.90" width="2.95" height="11.40" fill="#F39A25" />
<rect x="310.51" y="208.20" width="4.42" height="10.80" fill="#F39A25" opacity="0.15"/>
<rect x="311.25" y="207.90" width="2.95" height="11.40" fill="#F39A25" />
<rect x="315.80" y="208.15" width="2.70" height="10.90" fill="#fff" stroke="#d9d9d9" stroke-width="0.5"/>
<rect x="112.15" y="224.35" width="2.90" height="10.90" fill="#BCBCBC" />
<rect x="116.58" y="224.35" width="2.90" height="10.90" fill="#BCBCBC" />
<rect x="121.00" y="224.35" width="2.90" height="10.90" fill="#BCBCBC" />
<rect x="125.43" y="224.35" width="2.90" height="10.90" fill="#BCBCBC" />
<rect x="129.85" y="224.35" width="2.90" height="10.90" fill="#BCBCBC" />
<rect x="134.28" y="224.35" width="2.90" height="10.90" fill="#BCBCBC" />
<rect x="138.70" y="224.35" width="2.90" height="10.90" fill="#BCBCBC" />
<rect x="143.12" y="224.35" width="2.90" height="10.90" fill="#BCBCBC" />
<rect x="147.55" y="224.35" width="2.90" height="10.90" fill="#BCBCBC" />
<rect x="151.97" y="224.35" width="2.90" height="10.90" fill="#BCBCBC" />
<rect x="156.40" y="224.35" width="2.90" height="10.90" fill="#BCBCBC" />
<rect x="160.83" y="224.35" width="2.90" height="10.90" fill="#BCBCBC" />
<rect x="165.25" y="224.35" width="2.90" height="10.90" fill="#BCBCBC" />
<rect x="169.68" y="224.35" width="2.90" height="10.90" fill="#BCBCBC" />
<rect x="174.10" y="224.35" width="2.90" height="10.90" fill="#BCBCBC" />
<rect x="178.53" y="224.35" width="2.90" height="10.90" fill="#BCBCBC" />
<rect x="182.95" y="224.35" width="2.90" height="10.90" fill="#BCBCBC" />
<rect x="187.38" y="224.35" width="2.90" height="10.90" fill="#BCBCBC" />
<rect x="191.80" y="224.35" width="2.90" height="10.90" fill="#BCBCBC" />
<rect x="196.22" y="224.35" width="2.90" height="10.90" fill="#BCBCBC" />
<rect x="200.65" y="224.35" width="2.90" height="10.90" fill="#BCBCBC" />
<rect x="205.08" y="224.35" width="2.90" height="10.90" fill="#BCBCBC" />
<rect x="209.50" y="224.35" width="2.90" height="10.90" fill="#BCBCBC" />
<rect x="213.92" y="224.35" width="2.90" height="10.90" fill="#BCBCBC" />
<rect x="218.35" y="224.35" width="2.90" height="10.90" fill="#BCBCBC" />
<rect x="222.78" y="224.35" width="2.90" height="10.90" fill="#BCBCBC" />
<rect x="227.20" y="224.35" width="2.90" height="10.90" fill="#BCBCBC" />
<rect x="231.62" y="224.35" width="2.90" height="10.90" fill="#BCBCBC" />
<rect x="236.05" y="224.35" width="2.90" height="10.90" fill="#BCBCBC" />
<rect x="240.47" y="224.35" width="2.90" height="10.90" fill="#BCBCBC" />
<rect x="244.90" y="224.35" width="2.90" height="10.90" fill="#BCBCBC" />
<rect x="249.32" y="224.35" width="2.90" height="10.90" fill="#BCBCBC" />
<rect x="253.75" y="224.35" width="2.90" height="10.90" fill="#BCBCBC" />
<rect x="258.17" y="224.35" width="2.90" height="10.90" fill="#BCBCBC" />
<rect x="262.60" y="224.35" width="2.90" height="10.90" fill="#BCBCBC" />
<rect x="267.02" y="224.35" width="2.90" height="10.90" fill="#BCBCBC" />
<rect x="271.45" y="224.35" width="2.90" height="10.90" fill="#BCBCBC" />
<rect x="275.88" y="224.35" width="2.90" height="10.90" fill="#BCBCBC" />
<rect x="280.30" y="224.35" width="2.90" height="10.90" fill="#BCBCBC" />
<rect x="284.72" y="224.35" width="2.90" height="10.90" fill="#BCBCBC" />
<rect x="289.15" y="224.35" width="2.90" height="10.90" fill="#BCBCBC" />
<rect x="293.57" y="224.35" width="2.90" height="10.90" fill="#BCBCBC" />
<rect x="298.00" y="224.35" width="2.90" height="10.90" fill="#BCBCBC" />
<rect x="302.42" y="224.35" width="2.90" height="10.90" fill="#BCBCBC" />
<rect x="306.85" y="224.35" width="2.90" height="10.90" fill="#BCBCBC" />
<rect x="311.27" y="224.35" width="2.90" height="10.90" fill="#BCBCBC" />
<rect x="315.70" y="224.35" width="2.90" height="10.90" fill="#BCBCBC" />
<rect x="111.45" y="227.10" width="4.30" height="5.40" fill="#b9f5b2" opacity="0.85"/>
<rect x="112.27" y="227.90" width="2.66" height="3.80" fill="#126A1C" />
<rect x="115.88" y="227.10" width="4.30" height="5.40" fill="#b9f5b2" opacity="0.85"/>
<rect x="116.70" y="227.90" width="2.66" height="3.80" fill="#126A1C" />
<rect x="120.30" y="227.10" width="4.30" height="5.40" fill="#b9f5b2" opacity="0.85"/>
<rect x="121.12" y="227.90" width="2.66" height="3.80" fill="#126A1C" />
<rect x="124.73" y="227.10" width="4.30" height="5.40" fill="#b9f5b2" opacity="0.85"/>
<rect x="125.55" y="227.90" width="2.66" height="3.80" fill="#126A1C" />
<rect x="129.15" y="227.10" width="4.30" height="5.40" fill="#b9f5b2" opacity="0.85"/>
<rect x="129.97" y="227.90" width="2.66" height="3.80" fill="#126A1C" />
<rect x="182.25" y="227.10" width="4.30" height="5.40" fill="#b9f5b2" opacity="0.85"/>
<rect x="183.07" y="227.90" width="2.66" height="3.80" fill="#126A1C" />
<rect x="186.68" y="227.10" width="4.30" height="5.40" fill="#b9f5b2" opacity="0.85"/>
<rect x="187.50" y="227.90" width="2.66" height="3.80" fill="#126A1C" />
<rect x="191.10" y="227.10" width="4.30" height="5.40" fill="#b9f5b2" opacity="0.85"/>
<rect x="191.92" y="227.90" width="2.66" height="3.80" fill="#126A1C" />
<rect x="195.53" y="227.10" width="4.30" height="5.40" fill="#b9f5b2" opacity="0.85"/>
<rect x="196.34" y="227.90" width="2.66" height="3.80" fill="#126A1C" />
<rect x="199.95" y="227.10" width="4.30" height="5.40" fill="#b9f5b2" opacity="0.85"/>
<rect x="200.77" y="227.90" width="2.66" height="3.80" fill="#126A1C" />
<rect x="204.38" y="227.10" width="4.30" height="5.40" fill="#b9f5b2" opacity="0.85"/>
<rect x="205.20" y="227.90" width="2.66" height="3.80" fill="#126A1C" />
<rect x="208.80" y="227.10" width="4.30" height="5.40" fill="#b9f5b2" opacity="0.85"/>
<rect x="209.62" y="227.90" width="2.66" height="3.80" fill="#126A1C" />
<rect x="213.22" y="227.10" width="4.30" height="5.40" fill="#b9f5b2" opacity="0.85"/>
<rect x="214.04" y="227.90" width="2.66" height="3.80" fill="#126A1C" />
<rect x="279.60" y="227.10" width="4.30" height="5.40" fill="#b9f5b2" opacity="0.85"/>
<rect x="280.42" y="227.90" width="2.66" height="3.80" fill="#2c7a34" />
<rect x="112.15" y="240.60" width="2.90" height="10.90" fill="#BCBCBC" />
<rect x="116.58" y="240.60" width="2.90" height="10.90" fill="#BCBCBC" />
<rect x="121.00" y="240.60" width="2.90" height="10.90" fill="#BCBCBC" />
<rect x="125.43" y="240.60" width="2.90" height="10.90" fill="#BCBCBC" />
<rect x="129.85" y="240.60" width="2.90" height="10.90" fill="#BCBCBC" />
<rect x="134.28" y="240.60" width="2.90" height="10.90" fill="#BCBCBC" />
<rect x="138.70" y="240.60" width="2.90" height="10.90" fill="#BCBCBC" />
<rect x="143.12" y="240.60" width="2.90" height="10.90" fill="#BCBCBC" />
<rect x="147.55" y="240.60" width="2.90" height="10.90" fill="#BCBCBC" />
<rect x="151.97" y="240.60" width="2.90" height="10.90" fill="#BCBCBC" />
<rect x="156.40" y="240.60" width="2.90" height="10.90" fill="#BCBCBC" />
<rect x="160.83" y="240.60" width="2.90" height="10.90" fill="#BCBCBC" />
<rect x="165.25" y="240.60" width="2.90" height="10.90" fill="#BCBCBC" />
<rect x="169.68" y="240.60" width="2.90" height="10.90" fill="#BCBCBC" />
<rect x="174.10" y="240.60" width="2.90" height="10.90" fill="#BCBCBC" />
<rect x="178.53" y="240.60" width="2.90" height="10.90" fill="#BCBCBC" />
<rect x="182.95" y="240.60" width="2.90" height="10.90" fill="#BCBCBC" />
<rect x="187.38" y="240.60" width="2.90" height="10.90" fill="#BCBCBC" />
<rect x="191.80" y="240.60" width="2.90" height="10.90" fill="#BCBCBC" />
<rect x="196.22" y="240.60" width="2.90" height="10.90" fill="#BCBCBC" />
<rect x="200.65" y="240.60" width="2.90" height="10.90" fill="#BCBCBC" />
<rect x="205.08" y="240.60" width="2.90" height="10.90" fill="#BCBCBC" />
<rect x="209.50" y="240.60" width="2.90" height="10.90" fill="#BCBCBC" />
<rect x="213.92" y="240.60" width="2.90" height="10.90" fill="#BCBCBC" />
<rect x="218.35" y="240.60" width="2.90" height="10.90" fill="#BCBCBC" />
<rect x="222.78" y="240.60" width="2.90" height="10.90" fill="#BCBCBC" />
<rect x="227.20" y="240.60" width="2.90" height="10.90" fill="#BCBCBC" />
<rect x="231.62" y="240.60" width="2.90" height="10.90" fill="#BCBCBC" />
<rect x="236.05" y="240.60" width="2.90" height="10.90" fill="#BCBCBC" />
<rect x="240.47" y="240.60" width="2.90" height="10.90" fill="#BCBCBC" />
<rect x="244.90" y="240.60" width="2.90" height="10.90" fill="#BCBCBC" />
<rect x="249.32" y="240.60" width="2.90" height="10.90" fill="#BCBCBC" />
<rect x="253.75" y="240.60" width="2.90" height="10.90" fill="#BCBCBC" />
<rect x="258.17" y="240.60" width="2.90" height="10.90" fill="#BCBCBC" />
<rect x="262.60" y="240.60" width="2.90" height="10.90" fill="#BCBCBC" />
<rect x="267.02" y="240.60" width="2.90" height="10.90" fill="#BCBCBC" />
<rect x="271.45" y="240.60" width="2.90" height="10.90" fill="#BCBCBC" />
<rect x="275.88" y="240.60" width="2.90" height="10.90" fill="#BCBCBC" />
<rect x="280.30" y="240.60" width="2.90" height="10.90" fill="#BCBCBC" />
<rect x="284.72" y="240.60" width="2.90" height="10.90" fill="#BCBCBC" />
<rect x="289.15" y="240.60" width="2.90" height="10.90" fill="#BCBCBC" />
<rect x="293.57" y="240.60" width="2.90" height="10.90" fill="#BCBCBC" />
<rect x="298.00" y="240.60" width="2.90" height="10.90" fill="#BCBCBC" />
<rect x="302.42" y="240.60" width="2.90" height="10.90" fill="#BCBCBC" />
<rect x="306.85" y="240.60" width="2.90" height="10.90" fill="#BCBCBC" />
<rect x="311.27" y="240.60" width="2.90" height="10.90" fill="#BCBCBC" />
<rect x="315.70" y="240.60" width="2.90" height="10.90" fill="#BCBCBC" />
<rect x="133.58" y="243.35" width="4.30" height="5.40" fill="#b9f5b2" opacity="0.85"/>
<rect x="134.40" y="244.15" width="2.66" height="3.80" fill="#126A1C" />
<rect x="138.00" y="243.35" width="4.30" height="5.40" fill="#b9f5b2" opacity="0.85"/>
<rect x="138.82" y="244.15" width="2.66" height="3.80" fill="#126A1C" />
<rect x="142.43" y="243.35" width="4.30" height="5.40" fill="#b9f5b2" opacity="0.85"/>
<rect x="143.25" y="244.15" width="2.66" height="3.80" fill="#126A1C" />
<rect x="146.85" y="243.35" width="4.30" height="5.40" fill="#b9f5b2" opacity="0.85"/>
<rect x="147.67" y="244.15" width="2.66" height="3.80" fill="#126A1C" />
<rect x="151.28" y="243.35" width="4.30" height="5.40" fill="#b9f5b2" opacity="0.85"/>
<rect x="152.09" y="244.15" width="2.66" height="3.80" fill="#126A1C" />
<rect x="155.70" y="243.35" width="4.30" height="5.40" fill="#b9f5b2" opacity="0.85"/>
<rect x="156.52" y="244.15" width="2.66" height="3.80" fill="#126A1C" />
<rect x="217.65" y="243.35" width="4.30" height="5.40" fill="#b9f5b2" opacity="0.85"/>
<rect x="218.47" y="244.15" width="2.66" height="3.80" fill="#2c7a34" />
<rect x="284.02" y="243.35" width="4.30" height="5.40" fill="#b9f5b2" opacity="0.85"/>
<rect x="284.84" y="244.15" width="2.66" height="3.80" fill="#2c7a34" />
<rect x="112.15" y="256.85" width="2.90" height="10.90" fill="#BCBCBC" />
<rect x="116.58" y="256.85" width="2.90" height="10.90" fill="#BCBCBC" />
<rect x="121.00" y="256.85" width="2.90" height="10.90" fill="#BCBCBC" />
<rect x="125.43" y="256.85" width="2.90" height="10.90" fill="#BCBCBC" />
<rect x="129.85" y="256.85" width="2.90" height="10.90" fill="#BCBCBC" />
<rect x="134.28" y="256.85" width="2.90" height="10.90" fill="#BCBCBC" />
<rect x="138.70" y="256.85" width="2.90" height="10.90" fill="#BCBCBC" />
<rect x="143.12" y="256.85" width="2.90" height="10.90" fill="#BCBCBC" />
<rect x="147.55" y="256.85" width="2.90" height="10.90" fill="#BCBCBC" />
<rect x="151.97" y="256.85" width="2.90" height="10.90" fill="#BCBCBC" />
<rect x="156.40" y="256.85" width="2.90" height="10.90" fill="#BCBCBC" />
<rect x="160.83" y="256.85" width="2.90" height="10.90" fill="#BCBCBC" />
<rect x="165.25" y="256.85" width="2.90" height="10.90" fill="#BCBCBC" />
<rect x="169.68" y="256.85" width="2.90" height="10.90" fill="#BCBCBC" />
<rect x="174.10" y="256.85" width="2.90" height="10.90" fill="#BCBCBC" />
<rect x="178.53" y="256.85" width="2.90" height="10.90" fill="#BCBCBC" />
<rect x="182.95" y="256.85" width="2.90" height="10.90" fill="#BCBCBC" />
<rect x="187.38" y="256.85" width="2.90" height="10.90" fill="#BCBCBC" />
<rect x="191.80" y="256.85" width="2.90" height="10.90" fill="#BCBCBC" />
<rect x="196.22" y="256.85" width="2.90" height="10.90" fill="#BCBCBC" />
<rect x="200.65" y="256.85" width="2.90" height="10.90" fill="#BCBCBC" />
<rect x="205.08" y="256.85" width="2.90" height="10.90" fill="#BCBCBC" />
<rect x="209.50" y="256.85" width="2.90" height="10.90" fill="#BCBCBC" />
<rect x="213.92" y="256.85" width="2.90" height="10.90" fill="#BCBCBC" />
<rect x="218.35" y="256.85" width="2.90" height="10.90" fill="#BCBCBC" />
<rect x="222.78" y="256.85" width="2.90" height="10.90" fill="#BCBCBC" />
<rect x="227.20" y="256.85" width="2.90" height="10.90" fill="#BCBCBC" />
<rect x="231.62" y="256.85" width="2.90" height="10.90" fill="#BCBCBC" />
<rect x="236.05" y="256.85" width="2.90" height="10.90" fill="#BCBCBC" />
<rect x="240.47" y="256.85" width="2.90" height="10.90" fill="#BCBCBC" />
<rect x="244.90" y="256.85" width="2.90" height="10.90" fill="#BCBCBC" />
<rect x="249.32" y="256.85" width="2.90" height="10.90" fill="#BCBCBC" />
<rect x="253.75" y="256.85" width="2.90" height="10.90" fill="#BCBCBC" />
<rect x="258.17" y="256.85" width="2.90" height="10.90" fill="#BCBCBC" />
<rect x="262.60" y="256.85" width="2.90" height="10.90" fill="#BCBCBC" />
<rect x="267.02" y="256.85" width="2.90" height="10.90" fill="#BCBCBC" />
<rect x="271.45" y="256.85" width="2.90" height="10.90" fill="#BCBCBC" />
<rect x="275.88" y="256.85" width="2.90" height="10.90" fill="#BCBCBC" />
<rect x="280.30" y="256.85" width="2.90" height="10.90" fill="#BCBCBC" />
<rect x="284.72" y="256.85" width="2.90" height="10.90" fill="#BCBCBC" />
<rect x="289.15" y="256.85" width="2.90" height="10.90" fill="#BCBCBC" />
<rect x="293.57" y="256.85" width="2.90" height="10.90" fill="#BCBCBC" />
<rect x="298.00" y="256.85" width="2.90" height="10.90" fill="#BCBCBC" />
<rect x="302.42" y="256.85" width="2.90" height="10.90" fill="#BCBCBC" />
<rect x="306.85" y="256.85" width="2.90" height="10.90" fill="#BCBCBC" />
<rect x="311.27" y="256.85" width="2.90" height="10.90" fill="#BCBCBC" />
<rect x="315.70" y="256.85" width="2.90" height="10.90" fill="#BCBCBC" />
<rect x="288.45" y="259.60" width="4.30" height="5.40" fill="#b9f5b2" opacity="0.85"/>
<rect x="289.27" y="260.40" width="2.66" height="3.80" fill="#2c7a34" />
<rect x="284.77" y="260.20" width="2.80" height="4.20" fill="#111111" />
</g>
<g filter="url(#t0)">
<text x="0.80" y="16" font-size="12.2" text-anchor="start" font-weight="bold" class="p" fill="#111">A</text>
<text x="326.00" y="16" font-size="5.5" text-anchor="start" font-weight="bold" class="h" fill="#111">Gain</text>
<text x="344.50" y="16" font-size="5.5" text-anchor="start" font-weight="bold" class="h" fill="#111">Del</text>
<text x="87.60" y="45" font-size="6.9" text-anchor="end" font-weight="bold" fill="#111">Sex</text>
<text x="103.10" y="77" font-size="5.2" text-anchor="end" font-weight="bold" class="s" fill="#111">60%</text>
<text x="337.60" y="77" font-size="5.2" text-anchor="end" font-weight="bold" class="s" fill="#111">5.8%</text>
<text x="345.20" y="77" font-size="5.2" text-anchor="start" font-weight="bold" class="s" fill="#111">7.3%</text>
<text x="103.10" y="93" font-size="5.2" text-anchor="end" font-weight="bold" class="s" fill="#111">30%</text>
<text x="337.60" y="93" font-size="5.2" text-anchor="end" font-weight="bold" class="s" fill="#111">10.1%</text>
<text x="345.20" y="93" font-size="5.2" text-anchor="start" font-weight="bold" class="s" fill="#111">4.4%</text>
<text x="103.10" y="109" font-size="5.2" text-anchor="end" font-weight="bold" class="s" fill="#111">9%</text>
<text x="337.60" y="109" font-size="5.2" text-anchor="end" font-weight="bold" class="s" fill="#111">1.5%</text>
<text x="345.20" y="109" font-size="5.2" text-anchor="start" font-weight="bold" class="s" fill="#111">2.9%</text>
<text x="103.10" y="125" font-size="5.2" text-anchor="end" font-weight="bold" class="s" fill="#111">9%</text>
<text x="337.60" y="126" font-size="5.2" text-anchor="end" font-weight="bold" class="s" fill="#111">7.3%</text>
<text x="345.20" y="126" font-size="5.2" text-anchor="start" font-weight="bold" class="s" fill="#111">1.5%</text>
<text x="87.60" y="142" font-size="6.9" text-anchor="end" font-weight="bold" font-style="italic" fill="#111">RASA1</text>
<text x="103.10" y="142" font-size="5.2" text-anchor="end" font-weight="bold" class="s" fill="#111">9%</text>
<text x="337.60" y="142" font-size="5.2" text-anchor="end" font-weight="bold" class="s" fill="#111">4.4%</text>
<text x="345.20" y="142" font-size="5.2" text-anchor="start" font-weight="bold" class="s" fill="#111">1.5%</text>
<text x="87.60" y="158" font-size="6.9" text-anchor="end" font-weight="bold" font-style="italic" fill="#111">ARPC1A</text>
<text x="103.10" y="158" font-size="5.2" text-anchor="end" font-weight="bold" class="s" fill="#111">6%</text>
<text x="337.60" y="158" font-size="5.2" text-anchor="end" font-weight="bold" class="s" fill="#111">1.5%</text>
<text x="345.20" y="158" font-size="5.2" text-anchor="start" font-weight="bold" class="s" fill="#111">0%</text>
<text x="103.10" y="174" font-size="5.2" text-anchor="end" font-weight="bold" class="s" fill="#111">4%</text>
<text x="337.60" y="174" font-size="5.2" text-anchor="end" font-weight="bold" class="s" fill="#111">0%</text>
<text x="345.20" y="174" font-size="5.2" text-anchor="start" font-weight="bold" class="s" fill="#111">0%</text>
<text x="87.60" y="216" font-size="6.9" text-anchor="end" font-weight="bold" fill="#111">Tumor location</text>
<text x="107.30" y="232" font-size="5.7" text-anchor="end" font-weight="bold" class="s" fill="#111">30%</text>
<text x="337.60" y="232" font-size="5.2" text-anchor="end" font-weight="bold" class="s" fill="#111">10.1%</text>
<text x="356.50" y="232" font-size="5.2" text-anchor="end" font-weight="bold" class="s" fill="#111">4.4%</text>
<text x="107.30" y="248" font-size="5.7" text-anchor="end" font-weight="bold" class="s" fill="#111">17%</text>
<text x="337.60" y="248" font-size="5.2" text-anchor="end" font-weight="bold" class="s" fill="#111">NA</text>
<text x="356.50" y="248" font-size="5.2" text-anchor="end" font-weight="bold" class="s" fill="#111">NA</text>
<text x="107.30" y="264" font-size="5.7" text-anchor="end" font-weight="bold" class="s" fill="#111">4%</text>
<text x="337.60" y="265" font-size="5.2" text-anchor="end" font-weight="bold" class="s" fill="#111">4.4%</text>
<text x="356.50" y="265" font-size="5.2" text-anchor="end" font-weight="bold" class="s" fill="#111">4.4%</text>
</g>
<g filter="url(#t1)">
<text x="87.60" y="77" font-size="6.9" text-anchor="end" font-weight="bold" font-style="italic" fill="#111">TP53</text>
<text x="87.60" y="174" font-size="6.9" text-anchor="end" font-weight="bold" font-style="italic" fill="#111">ENSCAFG00000017407</text>
<text x="87.60" y="232" font-size="6.9" text-anchor="end" font-weight="bold" font-style="italic" fill="#111">PIK3CA</text>
</g>
<g filter="url(#t2)">
<text x="104.30" y="4" font-size="5.0" text-anchor="end" font-weight="bold" class="h" fill="#111">%</text>
<text x="103.90" y="10" font-size="5.5" text-anchor="end" font-weight="bold" class="h" fill="#111">SNV/</text>
<text x="325.90" y="10" font-size="5.8" text-anchor="start" font-weight="bold" fill="#111">% SCNA</text>
<text x="87.60" y="28" font-size="6.9" text-anchor="end" font-weight="bold" fill="#111">Tissue</text>
<text x="87.60" y="93" font-size="6.9" text-anchor="end" font-weight="bold" font-style="italic" fill="#111">PIK3CA</text>
<text x="87.60" y="109" font-size="6.9" text-anchor="end" font-weight="bold" font-style="italic" fill="#111">PIK3R1</text>
<text x="370.95" y="28" font-size="5.85" text-anchor="start" font-weight="bold" fill="#111">FFPE</text>
<text x="415.25" y="28" font-size="5.85" text-anchor="start" font-weight="bold" fill="#111">Frozen</text>
<text x="370.95" y="44" font-size="5.85" text-anchor="start" font-weight="bold" fill="#111">Male</text>
<text x="415.25" y="44" font-size="5.85" text-anchor="start" font-weight="bold" fill="#111">Female</text>
<text x="371.00" y="126" font-size="5.85" text-anchor="start" font-weight="bold" fill="#111">Missense</text>
<text x="416.60" y="126" font-size="5.85" text-anchor="start" font-weight="bold" fill="#111">Nonsense</text>
<text x="458.00" y="126" font-size="5.85" text-anchor="start" font-weight="bold" fill="#111">No alteration</text>
<text x="0.80" y="203" font-size="12.2" text-anchor="start" font-weight="bold" class="p" fill="#111">B</text>
<text x="87.60" y="248" font-size="6.9" text-anchor="end" font-weight="bold" fill="#111">Other PI3K</text>
</g>
<g filter="url(#t3)">
<text x="103.80" y="16" font-size="5.5" text-anchor="end" font-weight="bold" class="h" fill="#111">Indel</text>
<text x="87.60" y="60" font-size="6.9" text-anchor="end" font-weight="bold" fill="#111">Tumor location</text>
<text x="87.60" y="125" font-size="6.9" text-anchor="end" font-weight="bold" font-style="italic" fill="#111">ORC1</text>
<text x="370.95" y="60" font-size="5.85" text-anchor="start" font-weight="bold" fill="#111">Heart</text>
<text x="415.25" y="60" font-size="5.85" text-anchor="start" font-weight="bold" fill="#111">Spleen</text>
<text x="457.75" y="60" font-size="5.85" text-anchor="start" font-weight="bold" fill="#111">Liver</text>
<text x="493.25" y="60" font-size="5.85" text-anchor="start" font-weight="bold" fill="#111">Unknown</text>
<text x="87.60" y="264" font-size="6.9" text-anchor="end" font-weight="bold" font-style="italic" fill="#111">PTEN</text>
</g>
</svg></body></html>
